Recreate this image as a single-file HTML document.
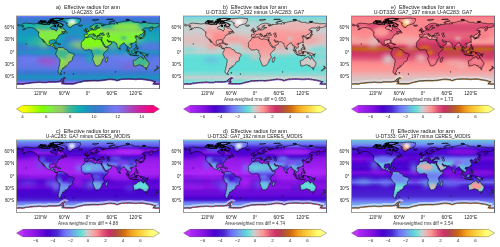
<!DOCTYPE html><html><head><meta charset="utf-8"><style>html,body{margin:0;padding:0;background:#fff;overflow:hidden}svg{display:block;will-change:transform}</style></head><body>
<svg width="500" height="247" viewBox="0 0 500 247" font-family="Liberation Sans, sans-serif">
<defs><clipPath id="mapclip"><rect x="0.5" y="0.5" width="143.0" height="73.0"/></clipPath><clipPath id="landclip"><path d="M34.07,7.72 35.06,6.99 36.05,7.03 35.85,7.6Z M31.88,6.38 33.27,5.97 33.07,6.58 32.08,6.66Z M33.87,6.58 35.06,6.54 34.86,6.26 33.87,6.34Z M23.94,5.97 25.92,5.61 26.32,6.1 24.73,6.26Z M40.22,7.39 41.81,7.27 41.22,7.07 40.02,7.15Z M32.68,9.1 33.87,9.18 34.07,8.73 33.07,8.77Z M38.83,11.61 39.83,11.53 39.23,11.29Z M90.67,4.43 92.66,4.15 95.83,4.07 97.42,4.35 94.64,4.56Z M110.13,5.16 111.72,4.84 113.71,5.08 111.72,5.37Z M126.82,6.99 128.01,6.79 129,7.19 127.61,7.27Z M10.03,28.52 10.43,28.81 10.23,29.29 10.03,29.09Z M99.33,56.75 100,56.87 99.81,57.2 99.37,57.12Z M56.91,58.9 57.7,58.9 57.78,59.22 57.1,59.1Z M47.65,57.8 48.96,57.76 49.08,58.01 48.17,58.21Z M5.27,10.4 6.06,9.22 7.65,8.53 9.83,8.08 11.62,8.29 14.01,8.53 15.99,8.73 17.98,9.02 19.17,8.81 21.16,8.53 22.74,8.81 25.13,9.02 26.72,9.3 29.1,9.5 31.48,9.54 33.07,9.42 34.26,8.81 35.06,7.88 36.25,9.02 37.84,8.81 39.43,9.91 37.84,10.23 37.44,10.96 35.85,11.45 34.66,12.26 34.46,13.15 35.26,13.88 37.04,14.29 38.63,14.61 39.31,15.59 40.42,16.11 40.62,15.1 41.41,14.49 41.22,13.48 41.02,12.34 41.22,11.65 43,11.86 44.19,12.26 44.39,13.07 45.39,13.27 46.38,12.59 47.37,13.68 47.97,14.49 49.36,15.3 49.84,15.91 49.16,16.24 48.17,16.64 46.58,16.64 45.58,16.84 46.18,17.05 46.38,17.41 46.18,17.94 47.77,18.34 48.17,18.43 46.78,18.91 45.78,19.24 45.86,18.63 45.39,18.75 44.19,19.28 43.96,19.72 44.19,20.05 43.6,20.21 42.61,20.53 42.49,21.02 42.01,21.39 41.81,21.99 42.01,22.68 41.41,23.09 40.62,23.54 39.83,24.23 40.14,25.44 40.22,26.25 40.06,26.78 39.71,26.66 39.23,25.85 39.15,25.32 38.63,24.83 37.84,24.67 36.65,24.71 36.45,25.12 35.85,25.16 34.66,25 33.67,25.56 33.27,26.46 33.15,27.88 33.39,28.69 33.87,29.29 34.46,29.62 35.46,29.46 35.85,29.29 36.09,28.56 37.04,28.28 37.44,28.32 37.24,29.29 36.97,29.9 36.85,30.55 38.04,30.55 38.87,30.84 38.79,32.34 38.95,32.94 39.63,33.43 40.42,33.11 41.1,33.43 41.25,33.55 41.06,34.04 40.82,33.67 40.22,34 40.02,33.72 39.23,33.67 38.63,33.15 37.96,32.62 37.64,32.13 37.2,31.69 36.45,31.52 35.65,31.32 35.06,30.71 34.46,30.43 33.67,30.63 32.87,30.39 31.68,29.9 30.49,29.29 30.01,28.69 30.13,28.16 29.78,27.55 28.9,26.66 28.5,26.13 27.91,25.64 27.39,25.04 27.03,24.35 26.44,24.14 26.52,24.63 27.11,25.32 27.39,25.93 27.95,26.66 28.19,27.27 28.5,27.59 28.31,27.71 27.79,27.14 27.43,26.94 27.39,26.25 26.64,25.73 26.52,25.32 26,24.71 25.72,24.18 25.41,23.58 24.93,23.21 24.1,22.97 23.62,22.2 23.34,21.71 22.86,21.18 22.63,20.66 22.7,19.97 22.55,19.36 22.78,18.26 22.51,17.41 23.14,17.33 23.22,17.09 22.43,16.6 21.35,15.99 20.96,15.42 20.24,14.9 19.77,14.37 18.97,13.76 18.18,13.36 17.58,13.19 16.39,12.75 15.2,12.67 13.81,12.34 13.01,12.59 12.42,12.91 11.82,12.95 11.62,12.42 11.03,12.87 10.83,13.15 10.19,13.56 9.64,13.92 8.96,14.29 7.85,14.53 7.05,14.74 6.66,14.86 7.65,14.37 8.84,13.68 9.44,13.19 8.25,13.19 7.65,12.83 6.86,12.54 6.34,12.18 6.06,11.65 6.66,11.33 8.05,11.04 7.93,10.8 6.86,10.8 5.98,10.8 5.27,10.4Z M43,5.29 45.78,4.23 48.17,3.74 52.14,3.5 56.11,3.14 60.08,3.14 63.26,3.54 64.85,3.95 64.06,4.56 64.65,5.57 64.06,6.58 63.46,7.6 63.06,8.41 62.07,8.9 60.08,9.34 58.89,9.42 57.3,10.31 56.11,10.64 55.52,11.45 54.92,12.59 54.12,12.46 52.93,12.18 52.14,11.65 51.54,10.84 51.03,10.23 50.63,9.62 51.15,9.14 50.55,8.61 51.54,8.21 50.15,7.8 49.76,7.19 48.96,6.46 47.37,6.1 45.78,6.18 44.19,5.85 43,5.29Z M47.37,9.95 46.58,10.44 46.1,11.53 44.99,11.53 43.4,11.13 42.41,10.84 41.02,10.88 41.61,10.44 42.8,9.91 43,9.34 41.41,8.69 40.22,8.61 38.63,8.53 36.65,8.29 37.04,7.6 38.63,7.11 40.22,7.19 41.81,7.52 43.4,7.8 44.19,8.21 45.39,8.61 45.19,9.1 46.98,9.62Z M40.22,5.97 42.21,5.57 43.8,5.12 46.18,4.35 47.37,3.74 44.19,3.42 40.22,3.34 36.25,3.95 35.46,4.56 33.87,5.37 37.04,5.77 39.03,6.06Z M40.22,6.79 35.46,6.75 33.87,6.34 36.25,5.85 39.03,6.1 40.62,6.26Z M25.13,8.49 27.11,9.1 29.89,9.1 31.68,8.81 31.48,7.72 29.89,7.27 27.51,7.48 24.93,7.88Z M22.15,7.88 22.74,6.87 25.13,6.26 25.92,7.19 24.33,8.12Z M25.92,6.66 29.1,6.66 30.29,6.1 28.31,5.93 25.92,5.97Z M35.46,5.16 37.84,4.47 35.06,4.07 33.87,4.56 33.87,5.04Z M33.07,7.88 33.87,7.07 32.48,6.99 31.68,7.39Z M37.84,11.04 39.83,11.29 40.02,10.84 38.63,10.23Z M48.4,17.7 51.03,18.02 50.95,17.21 49.87,16.07 49.16,16.52Z M38.28,28.12 39.43,27.59 41.22,27.96 42.53,28.77 41.22,28.93 40.22,28.2 39.03,28.08Z M42.45,28.97 44.19,29.01 44.83,29.46 43.6,29.86 42.45,29.58Z M41.25,33.55 41.81,33.15 42.01,32.7 42.53,32.46 43.32,32.17 43.56,32.54 43.44,32.86 43.64,33.11 44.15,32.34 44.91,32.74 45.78,32.7 46.58,32.7 47.25,32.7 47.77,33.11 48.17,33.55 48.76,34.04 49.28,34.57 50.15,34.61 50.75,34.73 51.5,35.3 51.9,36.19 52.14,36.84 52.54,37.2 52.81,37.41 53.53,37.41 54.28,37.93 55.12,38.05 56.11,38.14 57.1,38.87 57.98,39.23 58.18,40.04 58.02,40.73 57.3,41.54 56.67,42.27 56.51,43.29 56.43,44.22 56.11,45.03 55.71,45.84 55.32,46.33 54.32,46.45 53.53,46.73 52.73,47.54 52.66,48.48 51.94,49.37 51.27,50.1 50.75,50.71 50.19,51.15 49.56,51.11 48.8,50.87 49.24,51.52 49.44,51.92 49.04,52.53 47.97,52.78 47.29,52.74 47.25,53.47 46.26,53.55 46.58,54.24 46.18,54.64 45.98,55.25 45.27,55.66 45.39,56.59 44.67,57.48 44.51,58.17 44.87,58.25 44.79,59.1 45.58,59.31 44.79,59.55 44,59.31 43.2,58.78 42.41,58.09 42.01,56.67 42.41,55.86 42.01,55.45 42.68,54.64 42.61,53.83 42.8,52.61 42.88,52.01 43.52,50.63 43.6,49.17 43.72,48.15 44,47.14 44.08,45.72 44.12,44.42 43.6,44.06 42.41,43.29 41.73,42.6 41.29,41.79 40.54,40.24 40.06,39.68 39.75,39.35 39.71,38.7 40.14,38.3 40.14,37.61 40.02,37.12 40.22,36.63 40.66,36.39 40.74,35.95 41.22,35.46 41.29,34.36 41.06,34.04 41.25,33.55Z M69.82,22.44 71.21,22.77 72.4,22.2 73.27,22.08 74.58,21.99 75.89,21.87 76.37,21.99 76.05,22.32 76.37,22.72 76.05,23.09 76.45,23.54 76.97,23.7 78.04,23.9 78.36,24.35 79.35,24.71 79.94,24.47 79.98,23.9 80.74,23.66 81.53,24.02 82.01,24.18 82.92,24.35 83.72,24.43 84.31,24.18 84.83,24.35 85.58,24.31 85.62,24.35 85.86,25.04 85.58,25.73 85.31,25.52 84.95,24.87 84.95,25.04 85.19,25.73 85.58,26.37 86.02,27.27 86.5,28 86.78,28.48 86.82,29.38 87.29,29.7 87.69,30.59 88.37,31.12 88.88,31.65 89.2,32.09 89.16,32.34 89.68,32.78 90.47,32.62 91.27,32.46 92.34,32.17 92.26,32.74 92.06,33.35 91.66,34.36 91.07,35.17 90.47,35.99 89.48,36.51 88.68,37.32 88.29,37.73 87.93,38.14 87.57,38.87 87.41,39.64 87.65,40.24 87.73,41.06 88.09,41.46 88.13,42.88 88.17,43.29 87.61,43.81 86.7,44.22 86.02,44.91 86.1,45.92 86.1,46.73 85.11,47.34 85.03,47.54 84.91,48.56 84.43,48.96 83.96,49.57 83.2,50.26 82.53,50.71 82.17,50.79 81.14,50.75 80.74,50.87 79.94,51.11 79.47,50.87 79.27,50.59 79.23,49.98 78.83,49.09 78.55,48.56 78.04,47.95 77.84,47.14 77.72,46.12 77.32,45.44 76.85,44.5 76.69,44.02 76.69,43.41 76.97,42.47 77.4,41.87 77.48,41.34 77.24,40.65 76.85,39.43 76.85,39.35 76.57,38.62 76.17,38.22 75.81,37.81 75.69,37.2 75.77,36.59 75.89,35.78 75.81,35.5 75.5,35.26 74.98,35.22 74.38,35.26 73.99,34.77 73.79,34.45 72.99,34.45 72.4,34.61 71.6,34.97 71.21,35.09 70.41,34.89 69.82,34.93 69.02,35.22 68.62,35.13 68.03,34.65 67.43,34.2 67.03,33.96 66.76,33.55 66.64,33.15 66.12,32.62 65.84,32.3 65.37,31.97 65.33,31.52 65.05,31.04 65.45,30.51 65.56,29.5 65.45,29.05 65.25,28.48 65.45,27.88 65.64,27.35 66.12,26.86 66.28,26.37 66.76,25.81 67.43,25.56 68.03,25.16 68.11,24.71 68.11,24.23 68.42,23.78 69.22,23.29 69.54,22.64 69.82,22.44Z M91.58,41.87 92.06,43.29 91.78,43.89 91.58,44.5 91.19,45.72 90.75,47.06 89.95,47.34 89.48,47.06 89.2,46.12 89.28,45.52 89.64,44.91 89.48,44.1 89.64,43.57 90.39,43.33 90.99,42.76 91.38,42.07Z M69.82,22.44 69.62,22.28 69.46,22.08 69.06,21.91 68.46,21.99 68.5,21.51 68.23,21.26 68.5,20.7 68.46,20.05 68.31,19.56 68.82,19.28 69.82,19.36 70.61,19.36 71.28,19.4 71.48,18.95 71.52,18.34 71.13,17.9 70.25,17.57 70.13,17.29 70.81,17.21 71.36,17.25 71.48,16.84 72.08,16.93 72.6,16.64 72.64,16.36 72.99,16.28 73.43,16.11 73.79,15.79 73.91,15.51 74.38,15.3 74.78,15.26 75.42,15.14 75.42,14.49 75.22,14.05 75.38,13.84 76.21,13.6 76.13,14.09 76.29,14.21 75.97,14.69 76.37,15.1 76.97,14.98 77.56,15.1 78.36,14.98 79.15,14.78 79.75,14.94 80.34,14.61 80.34,13.96 80.66,13.68 81.33,13.88 81.65,13.56 81.33,13.23 81.65,12.91 83.12,12.87 83.92,12.71 83.44,12.46 82.72,12.46 81.14,12.71 80.94,12.54 80.5,12.34 80.54,11.53 81.14,11.13 82.05,10.64 81.93,10.35 80.94,10.27 80.34,10.72 79.55,11.25 79.07,11.65 78.83,12.26 79.47,12.67 79.35,12.95 78.67,13.27 78.55,13.88 78.28,14.25 77.64,14.53 77.12,14.45 77.01,14.21 76.73,13.72 76.41,13.07 76.17,12.75 75.97,13.07 75.18,13.44 74.38,13.4 74.11,12.95 73.99,12.46 73.99,11.94 74.18,11.65 75.18,11.33 75.97,10.92 76.77,10.31 77.36,9.62 78.16,9.22 78.75,8.94 79.55,8.69 80.34,8.53 81.53,8.33 82.33,8.21 83.32,8.21 84.31,8.49 83.92,8.73 85.11,8.9 86.3,9.02 88.09,9.5 88.37,9.91 87.09,10.23 85.82,10.19 85.11,10.03 85.7,10.84 86.7,11.13 87.09,10.84 86.7,10.56 87.89,10.8 88.29,10.44 89.48,10.15 89.56,9.5 89.28,9.26 90.27,9.3 90.47,9.5 91.46,9.54 93.05,9.26 93.85,9.34 95.04,9.06 96.03,8.69 97.62,8.9 99.01,9.22 98.53,8.81 98.61,8.33 99.21,7.6 99.81,7.39 100.8,7.48 100.8,8.21 100.6,9.02 101.2,9.22 101.59,8.21 101.2,7.88 101.79,7.6 101.99,7.27 103.38,7.6 103.98,7.15 105.37,7.03 106.36,6.79 106.56,6.5 109.74,6.18 111.33,6.1 112.12,5.85 113.31,5.53 114.3,5.69 114.9,5.97 116.09,5.89 117.08,6.3 116.89,6.91 118.08,7.11 119.27,7.35 120.86,7.39 122.05,7.19 123.04,7.39 123.24,7.88 124.04,8.25 124.83,8 126.02,7.96 127.21,7.72 127.81,7.48 129.6,7.68 131.19,7.8 131.78,8 132.38,8.25 133.97,8.21 135.16,8.25 135.75,8.61 136.75,8.73 138.34,8.77 139.53,8.61 140.72,8.65 141.91,8.69 143.5,9.02 143.5,10.48 142.9,10.8 142.23,10.8 142.31,11.65 141.32,11.94 140.32,12.26 139.73,12.67 138.34,12.54 137.14,12.71 136.55,13.27 136.87,13.88 136.35,14.21 136.27,14.74 135.56,15.42 134.96,15.55 134.24,16.28 133.97,15.59 133.85,14.69 133.93,13.96 134.36,13.56 135.16,13.27 136.15,12.5 136.95,11.94 135.75,11.98 135.36,12.14 134.24,12.06 133.29,12.71 133.57,12.99 132.58,13.07 130.79,12.91 129.6,12.91 128.49,13.07 127.69,13.56 126.82,14.09 125.82,14.78 126.42,15.1 126.62,15.42 127.81,15.42 128.09,15.79 127.81,16.72 127.61,17.33 127.02,17.94 126.5,18.43 125.82,19.2 125.03,19.64 124.43,19.48 123.96,19.76 123.56,20.37 123.52,20.45 122.84,20.86 122.65,21.06 122.96,21.35 123.4,21.99 123.44,22.56 123.24,22.77 122.65,22.97 122.21,23.05 122.13,22.72 122.37,22.04 122.13,21.71 121.65,21.71 121.77,21.35 121.57,20.94 121.06,20.86 120.3,21.22 120.18,20.98 120.58,20.58 120.26,20.41 119.87,20.7 119.27,21.1 118.75,21.26 118.87,21.59 119.23,21.83 119.55,21.91 119.98,21.67 120.66,21.83 120.62,22.04 119.91,22.36 119.35,22.85 119.79,23.09 119.91,23.45 120.42,24.14 120.42,24.51 120.26,24.79 120.46,24.91 120.3,25.36 120.06,25.73 119.75,26.21 119.51,26.62 119.11,27.02 118.47,27.47 118,27.75 117.36,27.96 117.08,27.92 116.69,28.16 116.09,28.32 115.77,28.77 115.77,28.36 115.38,28.32 114.9,28.24 114.38,28.61 114.07,28.97 113.99,29.29 114.34,29.9 114.7,30.31 115.22,30.84 115.42,31.52 115.38,32.3 115.06,32.54 114.58,32.78 114.26,33.15 113.75,33.51 113.63,33.19 113.75,32.94 113.43,32.74 112.95,32.46 112.76,32.05 112.08,31.89 112.08,31.57 111.76,31.57 111.72,32.01 111.4,32.78 111.4,33.27 111.68,33.27 111.84,33.63 111.92,34 112.12,34.2 112.56,34.49 112.91,34.77 113.07,35.01 113.07,35.46 113.11,35.86 113.39,36.35 113.11,36.51 112.76,36.23 112.28,35.86 112.16,35.54 111.88,35.3 111.84,34.85 111.76,34.36 111.52,34.2 111.13,33.59 111.09,33.11 111.21,32.38 111.13,31.69 111.01,31.36 110.81,30.55 110.61,30.15 110.33,30.35 109.89,30.63 109.66,30.59 109.42,30.51 109.54,29.98 109.46,29.62 109.14,29.13 108.94,28.93 108.7,28.61 108.58,28.4 108.31,27.75 107.95,27.75 107.87,28.16 107.63,28.12 107.31,28.2 107.07,28.2 106.36,28.81 105.8,29.09 105.41,29.58 104.65,30.11 104.45,30.39 103.9,30.55 103.78,30.88 103.86,31.4 103.9,31.73 103.74,32.09 103.74,32.78 103.5,32.82 103.34,33.15 103.46,33.27 103.1,33.39 102.94,33.63 102.78,33.76 102.43,33.39 102.23,32.82 102.07,32.42 101.95,32.21 101.75,31.85 101.63,31.32 101.55,31.08 101.2,30.51 101.04,29.74 100.92,29.21 100.92,28.73 100.84,28.32 100.28,28.56 100,28.52 99.49,28.04 99.65,27.88 99.53,27.75 99.09,27.39 98.77,27.31 98.65,26.98 98.38,26.7 97.62,26.78 96.63,26.82 96.43,26.82 95.67,26.7 95.24,26.62 94.8,26.58 94.56,26.01 94.44,26.01 94.13,26.09 93.73,26.25 93.25,26.13 92.85,25.81 92.46,25.69 91.9,24.79 91.7,24.83 91.42,24.71 91.07,24.83 90.95,25.24 91.23,25.4 91.38,25.77 91.58,25.85 91.66,26.09 91.9,26.17 91.94,26.33 92.1,26.78 92.26,26.46 92.5,26.54 92.5,27.19 92.89,27.19 93.45,27.23 94.01,26.7 94.28,26.46 94.4,26.29 94.4,26.78 94.4,26.9 94.8,27.31 95.32,27.43 95.63,27.79 95.75,27.88 95.56,28.32 95.4,28.44 95.24,28.73 95.04,28.69 94.92,29.01 94.96,29.33 94.48,29.46 94.36,29.74 94.01,29.86 93.85,30.11 93.53,30.11 93.29,30.23 92.81,30.35 92.73,30.55 92.06,30.8 91.7,31.04 91.34,31.32 91.07,31.32 90.67,31.48 90.23,31.61 89.91,31.77 89.68,31.85 89.28,31.89 89.16,31.65 89.04,31 88.92,30.84 89,30.55 88.92,30.19 88.76,29.9 88.6,29.78 88.37,29.42 88.25,29.09 87.97,28.81 87.81,28.77 87.53,28.36 87.49,27.83 87.29,27.39 86.9,27.14 86.78,26.82 86.66,26.62 86.54,26.29 86.34,26.21 85.94,25.6 85.74,25.6 85.86,25.04 85.62,24.35 85.74,24.23 85.9,23.7 85.94,23.25 86.1,22.97 86.26,22.64 86.34,22.48 86.3,22.24 86.14,22.16 85.78,22.08 85.51,22.32 84.91,22.36 84.59,22.16 84.16,22.12 84.08,22.28 83.8,22.36 83.4,22.12 82.96,22.12 82.76,21.71 82.45,21.51 82.65,21.18 82.41,20.98 82.41,20.78 82.84,20.62 83.44,20.58 83.6,20.33 84.35,20.33 84.83,20.09 85.31,19.97 85.78,19.97 86.18,20.13 86.7,20.29 87.21,20.41 87.69,20.33 88.05,20.37 88.48,20.17 88.56,20.01 88.48,19.72 88.01,19.52 87.73,19.16 87.29,18.95 86.86,18.67 87.21,18.3 87.57,17.86 86.9,17.9 86.1,18.1 85.82,18.3 86.1,18.59 86.5,18.63 85.7,18.95 85.31,18.95 84.91,18.59 85.35,18.38 84.91,18.3 84.59,18.1 84.16,18.1 83.76,18.67 83.4,19.03 83.36,19.48 83.12,19.97 83.16,20.13 83.56,20.29 83.12,20.37 82.72,20.45 82.41,20.62 82.37,20.53 82.33,20.45 81.89,20.41 81.41,20.49 81.69,20.74 81.3,21.1 81.1,21.02 81.26,21.47 81.53,21.51 81.53,21.71 81.18,21.63 81.3,21.83 81.06,21.87 81.22,22.24 80.94,22.24 80.62,22.08 80.46,21.75 80.38,21.47 80.02,21.06 79.71,20.66 79.67,20.01 78.95,19.64 78.36,19.36 78.04,19.07 77.92,18.71 77.44,18.71 77.44,18.55 77.01,18.51 76.89,18.59 76.93,18.79 76.89,18.91 77.01,19.12 77.36,19.32 77.56,19.64 78,19.97 78.36,20.09 78.95,20.41 79.31,20.62 79.35,20.7 79.03,20.66 78.75,21.02 78.83,21.1 78.47,21.47 78.24,21.63 78.24,21.51 78.32,21.26 78.4,20.98 78.12,20.78 77.84,20.53 77.4,20.29 77.01,20.09 76.81,20.09 76.45,19.8 76.17,19.56 76.05,19.2 75.85,18.99 75.54,18.99 75.34,19.07 74.94,19.28 74.58,19.52 73.83,19.4 73.23,19.52 73.19,20.01 72.83,20.29 72.32,20.37 72.28,20.49 72.04,20.74 71.88,21.06 72.04,21.3 71.8,21.47 71.72,21.75 71.44,21.83 71.17,22.12 70.25,22.12 70.01,22.28 69.82,22.44Z M0.5,9.02 1.69,9.14 2.88,9.75 3.88,9.87 4.55,10.23 4.08,10.48 3.48,10.88 2.29,10.84 1.29,10.48 0.5,10.48Z M69.74,16.68 70.41,16.56 71.6,16.4 72.56,16.24 72.64,15.67 72.12,15.38 71.88,15.02 71.52,14.82 71.36,14.45 70.97,14.17 71.28,13.64 70.69,13.23 70.01,13.23 69.7,13.56 69.78,14.13 69.54,14.41 70.01,14.69 70.09,14.78 70.61,14.82 70.73,15.06 70.81,15.34 70.17,15.38 70.33,15.67 70.05,15.91 69.93,16.03 70.69,16.15 70.25,16.24 69.74,16.68Z M69.54,15.83 69.62,15.38 69.58,15.1 69.78,14.86 69.54,14.61 69.1,14.57 68.66,14.78 68.58,14.98 68.03,15.02 68.11,15.34 68.23,15.67 67.91,15.91 68.11,16.11 68.62,16.07 69.26,15.87Z M63.06,11.04 63.26,10.84 62.47,10.44 63.06,10.11 64.45,10.15 65.64,10.03 66.24,10.15 66.6,10.6 66.08,10.88 64.57,11.29 63.66,11.13Z M76.37,5.16 76.77,4.64 78.55,4.56 80.34,4.39 82.72,4.52 80.74,5.2 79.15,5.93 77.96,5.65Z M92.66,8 93.25,7.27 93.85,6.91 95.04,6.3 97.03,6.02 99.21,5.77 98.61,6.22 95.83,6.66 94.44,7.31 94.84,8.33 93.25,8.29Z M109.74,4.76 111.33,4.15 113.31,4.64 112.12,5.04Z M126.02,6.58 127.61,6.26 129.99,6.5 128.41,7.03 126.42,6.91Z M128.41,18.34 129,18.14 128.8,17.33 129.4,17.13 128.88,16.11 128.92,15.38 128.64,14.98 128.41,15.3 128.49,16.32 128.33,17.33Z M127.61,20.17 127.61,19.76 128.21,18.59 128.6,18.87 129.8,19.44 129,19.97 128.01,19.8Z M124,23.21 124.23,22.93 124.83,22.6 126.02,22.52 126.3,22.08 126.54,21.87 127.02,21.67 127.41,21.39 127.61,20.82 127.61,20.45 128.17,20.21 128.41,20.98 128.01,21.59 128.01,22.08 127.93,22.52 127.53,22.81 127.13,22.97 126.42,22.97 126.34,23.09 125.94,23.41 125.66,22.97 125.03,23.05 124.55,23.21Z M123.52,23.41 123.56,23.78 123.72,24.31 124.08,24.31 124.39,23.82 124.43,23.5 124.08,23.25 123.8,23.25Z M124.63,23.58 124.79,23.21 125.47,23.13 125.51,23.29 124.95,23.54 124.79,23.74Z M119.71,27.67 120.06,26.82 120.42,26.86 120.26,27.47 119.98,28.12Z M115.14,29.21 115.85,28.85 116.09,29.05 115.81,29.54 115.42,29.62Z M103.7,33.67 103.74,33.03 104.17,33.55 104.49,34 104.41,34.4 104.02,34.61 103.78,34.4Z M119.67,29.5 120.14,29.46 120.54,29.5 120.58,30.11 120.3,30.55 120.46,31.16 121.18,31.4 121.33,31.89 120.86,31.61 120.34,31.32 119.91,31.16 119.91,30.59 119.63,30.39Z M120.46,34.16 120.78,33.76 121.18,33.67 121.85,33.35 122.21,33.43 122.29,34.04 122.13,34.45 121.81,34.73 121.3,34.4 121.22,33.92 120.86,33.96Z M120.46,32.74 120.94,32.42 121.45,31.93 121.89,32.42 121.65,32.9 121.06,33.15 120.66,33.07Z M118.55,33.59 119.47,32.42 119.55,32.74 118.79,33.72Z M115.3,36.39 115.58,36.19 116.09,36.35 116.17,35.95 116.89,35.74 117.36,35.17 117.84,34.97 118.16,34.53 118.47,34.16 118.75,34.4 119.11,34.77 119.35,34.85 118.99,35.22 118.75,35.3 118.83,36.27 119.27,36.63 118.79,36.68 118.67,37.16 118.32,37.61 118.28,38.01 118.12,38.62 117.64,38.66 117.48,38.42 117.01,38.26 116.41,38.42 116.09,38.26 115.77,38.18 115.69,37.65 115.34,37.2 115.3,36.84Z M109.86,34.77 110.73,34.89 111.09,35.26 111.6,35.7 111.96,36.15 112.28,36.19 112.72,36.43 113.23,36.96 113.07,37.28 113.47,37.45 113.67,37.93 113.95,38.22 114.15,38.26 114.03,38.74 114.03,39.39 113.59,39.39 113.27,39.03 112.76,38.7 112.6,38.46 112.28,38.14 112.08,37.85 111.76,37.28 111.44,36.92 111.17,36.27 110.81,35.99 110.61,35.66 110.29,35.42 109.89,34.97Z M113.79,39.76 114.15,39.39 114.62,39.43 115.1,39.6 115.89,39.8 116.25,39.72 116.73,39.8 117.48,40.16 117.44,40.53 117.08,40.37 116.29,40.37 115.93,40.28 115.02,40.16 114.3,40 113.87,39.84Z M117.68,40.37 118.36,40.49 119.27,40.45 119.98,40.37 120.82,40.28 120.78,40.53 119.47,40.61 118.28,40.61 117.76,40.53Z M121.26,41.02 121.69,40.53 122.57,40.41 121.69,40.81 121.26,41.18Z M119.47,39.23 119.43,38.42 119.19,38.14 119.35,37.85 119.59,37 119.71,36.76 120.02,36.47 120.82,36.63 121.3,36.63 121.69,36.35 121.41,36.84 121.14,36.92 120.06,36.84 119.75,37 119.71,37.2 120.02,37.57 120.26,37.41 120.98,37.24 120.78,37.61 120.26,37.77 120.62,38.3 120.66,38.95 120.3,38.7 120.18,38.87 120.02,38.46 119.83,39.23Z M122.8,36.11 123.12,36.55 122.84,36.8 123.2,37.28 122.73,37.12 122.61,36.59Z M124.04,37.53 124.59,37.16 125.27,37.37 125.39,38.14 125.82,38.38 126.14,37.93 126.58,37.69 126.94,37.69 127.29,37.85 127.97,38.05 128.68,38.34 129.44,38.58 129.91,39.03 129.91,39.23 130.63,39.47 130.47,40 130.83,40.24 131.07,40.69 131.31,40.69 131.58,41.1 131.9,41.18 131.58,41.3 131.15,41.18 130.75,41.1 130.43,40.85 129.99,40.28 129.48,40.08 129.16,40.2 128.92,40.33 128.96,40.65 128.64,40.77 128.01,40.69 127.25,40.28 126.86,40.41 126.82,40.08 127.09,39.96 126.98,39.51 126.78,39.19 125.7,38.83 125.11,38.42 124.99,38.62 124.75,38.66 124.75,38.34 124.43,38.14 124.87,38.01 125.15,38.01 125.11,37.89 124.51,37.89 124.35,37.65 124,37.57Z M130.91,39.27 131.58,39.23 132.18,38.7 132.5,38.74 132.1,39.35 131.58,39.55 130.91,39.43Z M117.08,45.92 117.2,46.73 117.04,46.9 117.36,47.67 117.36,48.07 117.68,48.96 117.96,49.82 117.96,50.5 117.68,50.63 117.68,50.91 118.32,51.19 118.87,51.19 119.63,50.79 120.26,50.71 121.14,50.75 121.33,50.38 122.09,50.06 123.24,49.82 124.16,49.78 124.83,50.02 125.35,50.22 125.7,50.99 126.02,51.15 126.62,50.42 126.78,50.63 126.74,51.23 127.02,51.32 127.41,51.52 127.57,52.17 127.85,52.41 128.29,52.53 129.04,52.74 129.4,52.45 129.72,52.53 130.11,52.82 130.55,52.49 130.91,52.33 131.58,52.17 131.62,51.76 131.86,51.28 132.1,50.71 132.42,50.26 132.78,49.57 133.01,48.56 132.81,47.59 132.62,47.22 132.22,46.77 131.86,46.08 131.46,46.04 131.11,45.27 130.15,44.71 129.99,44.02 129.76,43.61 129.72,43.08 129.44,42.76 129.04,42.68 129.04,42.11 128.6,41.34 128.41,41.83 128.29,42.56 128.25,43.29 127.97,44.06 127.33,44.06 126.78,43.69 126.26,43.37 125.82,43 126.02,42.39 126.34,41.95 125.98,41.83 125.51,41.87 125.07,41.79 124.67,41.7 124.35,41.58 124,41.95 123.68,42.31 123.4,42.84 122.92,43.04 122.77,42.8 122.41,42.6 121.97,42.88 121.41,43.61 121.02,44.02 120.54,44.38 120.18,44.87 119.59,45.11 119.15,45.27 118.55,45.39 118.24,45.35 117.64,45.8Z M129.48,53.51 130.15,53.67 130.91,53.59 130.91,54.07 130.75,54.52 130.35,54.68 129.76,54.32 129.64,53.87Z M140.56,50.95 140.92,51.19 141.24,51.32 141.43,51.92 141.87,52.25 142.47,52.37 142.9,52.29 142.71,52.9 142.27,53.02 141.91,53.75 141.59,53.87 141.39,53.75 141.59,53.42 141.36,53.18 141.04,53.02 141.32,52.74 141.39,52.17 141.24,51.8Z M140.6,53.42 141.08,53.59 141.24,53.91 140.88,54.36 140.6,54.6 140,55.01 139.77,55.62 139.25,55.9 138.53,55.78 138.18,55.62 138.3,55.29 138.85,54.88 139.73,54.44 140.16,53.95 140.36,53.59Z"/></clipPath><g id="coast"><path d="M34.07,7.72 35.06,6.99 36.05,7.03 35.85,7.6Z M31.88,6.38 33.27,5.97 33.07,6.58 32.08,6.66Z M33.87,6.58 35.06,6.54 34.86,6.26 33.87,6.34Z M23.94,5.97 25.92,5.61 26.32,6.1 24.73,6.26Z M40.22,7.39 41.81,7.27 41.22,7.07 40.02,7.15Z M32.68,9.1 33.87,9.18 34.07,8.73 33.07,8.77Z M38.83,11.61 39.83,11.53 39.23,11.29Z M90.67,4.43 92.66,4.15 95.83,4.07 97.42,4.35 94.64,4.56Z M110.13,5.16 111.72,4.84 113.71,5.08 111.72,5.37Z M126.82,6.99 128.01,6.79 129,7.19 127.61,7.27Z M10.03,28.52 10.43,28.81 10.23,29.29 10.03,29.09Z M99.33,56.75 100,56.87 99.81,57.2 99.37,57.12Z M56.91,58.9 57.7,58.9 57.78,59.22 57.1,59.1Z M47.65,57.8 48.96,57.76 49.08,58.01 48.17,58.21Z M5.27,10.4 6.06,9.22 7.65,8.53 9.83,8.08 11.62,8.29 14.01,8.53 15.99,8.73 17.98,9.02 19.17,8.81 21.16,8.53 22.74,8.81 25.13,9.02 26.72,9.3 29.1,9.5 31.48,9.54 33.07,9.42 34.26,8.81 35.06,7.88 36.25,9.02 37.84,8.81 39.43,9.91 37.84,10.23 37.44,10.96 35.85,11.45 34.66,12.26 34.46,13.15 35.26,13.88 37.04,14.29 38.63,14.61 39.31,15.59 40.42,16.11 40.62,15.1 41.41,14.49 41.22,13.48 41.02,12.34 41.22,11.65 43,11.86 44.19,12.26 44.39,13.07 45.39,13.27 46.38,12.59 47.37,13.68 47.97,14.49 49.36,15.3 49.84,15.91 49.16,16.24 48.17,16.64 46.58,16.64 45.58,16.84 46.18,17.05 46.38,17.41 46.18,17.94 47.77,18.34 48.17,18.43 46.78,18.91 45.78,19.24 45.86,18.63 45.39,18.75 44.19,19.28 43.96,19.72 44.19,20.05 43.6,20.21 42.61,20.53 42.49,21.02 42.01,21.39 41.81,21.99 42.01,22.68 41.41,23.09 40.62,23.54 39.83,24.23 40.14,25.44 40.22,26.25 40.06,26.78 39.71,26.66 39.23,25.85 39.15,25.32 38.63,24.83 37.84,24.67 36.65,24.71 36.45,25.12 35.85,25.16 34.66,25 33.67,25.56 33.27,26.46 33.15,27.88 33.39,28.69 33.87,29.29 34.46,29.62 35.46,29.46 35.85,29.29 36.09,28.56 37.04,28.28 37.44,28.32 37.24,29.29 36.97,29.9 36.85,30.55 38.04,30.55 38.87,30.84 38.79,32.34 38.95,32.94 39.63,33.43 40.42,33.11 41.1,33.43 41.25,33.55 41.06,34.04 40.82,33.67 40.22,34 40.02,33.72 39.23,33.67 38.63,33.15 37.96,32.62 37.64,32.13 37.2,31.69 36.45,31.52 35.65,31.32 35.06,30.71 34.46,30.43 33.67,30.63 32.87,30.39 31.68,29.9 30.49,29.29 30.01,28.69 30.13,28.16 29.78,27.55 28.9,26.66 28.5,26.13 27.91,25.64 27.39,25.04 27.03,24.35 26.44,24.14 26.52,24.63 27.11,25.32 27.39,25.93 27.95,26.66 28.19,27.27 28.5,27.59 28.31,27.71 27.79,27.14 27.43,26.94 27.39,26.25 26.64,25.73 26.52,25.32 26,24.71 25.72,24.18 25.41,23.58 24.93,23.21 24.1,22.97 23.62,22.2 23.34,21.71 22.86,21.18 22.63,20.66 22.7,19.97 22.55,19.36 22.78,18.26 22.51,17.41 23.14,17.33 23.22,17.09 22.43,16.6 21.35,15.99 20.96,15.42 20.24,14.9 19.77,14.37 18.97,13.76 18.18,13.36 17.58,13.19 16.39,12.75 15.2,12.67 13.81,12.34 13.01,12.59 12.42,12.91 11.82,12.95 11.62,12.42 11.03,12.87 10.83,13.15 10.19,13.56 9.64,13.92 8.96,14.29 7.85,14.53 7.05,14.74 6.66,14.86 7.65,14.37 8.84,13.68 9.44,13.19 8.25,13.19 7.65,12.83 6.86,12.54 6.34,12.18 6.06,11.65 6.66,11.33 8.05,11.04 7.93,10.8 6.86,10.8 5.98,10.8 5.27,10.4Z M43,5.29 45.78,4.23 48.17,3.74 52.14,3.5 56.11,3.14 60.08,3.14 63.26,3.54 64.85,3.95 64.06,4.56 64.65,5.57 64.06,6.58 63.46,7.6 63.06,8.41 62.07,8.9 60.08,9.34 58.89,9.42 57.3,10.31 56.11,10.64 55.52,11.45 54.92,12.59 54.12,12.46 52.93,12.18 52.14,11.65 51.54,10.84 51.03,10.23 50.63,9.62 51.15,9.14 50.55,8.61 51.54,8.21 50.15,7.8 49.76,7.19 48.96,6.46 47.37,6.1 45.78,6.18 44.19,5.85 43,5.29Z M47.37,9.95 46.58,10.44 46.1,11.53 44.99,11.53 43.4,11.13 42.41,10.84 41.02,10.88 41.61,10.44 42.8,9.91 43,9.34 41.41,8.69 40.22,8.61 38.63,8.53 36.65,8.29 37.04,7.6 38.63,7.11 40.22,7.19 41.81,7.52 43.4,7.8 44.19,8.21 45.39,8.61 45.19,9.1 46.98,9.62Z M40.22,5.97 42.21,5.57 43.8,5.12 46.18,4.35 47.37,3.74 44.19,3.42 40.22,3.34 36.25,3.95 35.46,4.56 33.87,5.37 37.04,5.77 39.03,6.06Z M40.22,6.79 35.46,6.75 33.87,6.34 36.25,5.85 39.03,6.1 40.62,6.26Z M25.13,8.49 27.11,9.1 29.89,9.1 31.68,8.81 31.48,7.72 29.89,7.27 27.51,7.48 24.93,7.88Z M22.15,7.88 22.74,6.87 25.13,6.26 25.92,7.19 24.33,8.12Z M25.92,6.66 29.1,6.66 30.29,6.1 28.31,5.93 25.92,5.97Z M35.46,5.16 37.84,4.47 35.06,4.07 33.87,4.56 33.87,5.04Z M33.07,7.88 33.87,7.07 32.48,6.99 31.68,7.39Z M37.84,11.04 39.83,11.29 40.02,10.84 38.63,10.23Z M48.4,17.7 51.03,18.02 50.95,17.21 49.87,16.07 49.16,16.52Z M38.28,28.12 39.43,27.59 41.22,27.96 42.53,28.77 41.22,28.93 40.22,28.2 39.03,28.08Z M42.45,28.97 44.19,29.01 44.83,29.46 43.6,29.86 42.45,29.58Z M41.25,33.55 41.81,33.15 42.01,32.7 42.53,32.46 43.32,32.17 43.56,32.54 43.44,32.86 43.64,33.11 44.15,32.34 44.91,32.74 45.78,32.7 46.58,32.7 47.25,32.7 47.77,33.11 48.17,33.55 48.76,34.04 49.28,34.57 50.15,34.61 50.75,34.73 51.5,35.3 51.9,36.19 52.14,36.84 52.54,37.2 52.81,37.41 53.53,37.41 54.28,37.93 55.12,38.05 56.11,38.14 57.1,38.87 57.98,39.23 58.18,40.04 58.02,40.73 57.3,41.54 56.67,42.27 56.51,43.29 56.43,44.22 56.11,45.03 55.71,45.84 55.32,46.33 54.32,46.45 53.53,46.73 52.73,47.54 52.66,48.48 51.94,49.37 51.27,50.1 50.75,50.71 50.19,51.15 49.56,51.11 48.8,50.87 49.24,51.52 49.44,51.92 49.04,52.53 47.97,52.78 47.29,52.74 47.25,53.47 46.26,53.55 46.58,54.24 46.18,54.64 45.98,55.25 45.27,55.66 45.39,56.59 44.67,57.48 44.51,58.17 44.87,58.25 44.79,59.1 45.58,59.31 44.79,59.55 44,59.31 43.2,58.78 42.41,58.09 42.01,56.67 42.41,55.86 42.01,55.45 42.68,54.64 42.61,53.83 42.8,52.61 42.88,52.01 43.52,50.63 43.6,49.17 43.72,48.15 44,47.14 44.08,45.72 44.12,44.42 43.6,44.06 42.41,43.29 41.73,42.6 41.29,41.79 40.54,40.24 40.06,39.68 39.75,39.35 39.71,38.7 40.14,38.3 40.14,37.61 40.02,37.12 40.22,36.63 40.66,36.39 40.74,35.95 41.22,35.46 41.29,34.36 41.06,34.04 41.25,33.55Z M69.82,22.44 71.21,22.77 72.4,22.2 73.27,22.08 74.58,21.99 75.89,21.87 76.37,21.99 76.05,22.32 76.37,22.72 76.05,23.09 76.45,23.54 76.97,23.7 78.04,23.9 78.36,24.35 79.35,24.71 79.94,24.47 79.98,23.9 80.74,23.66 81.53,24.02 82.01,24.18 82.92,24.35 83.72,24.43 84.31,24.18 84.83,24.35 85.58,24.31 85.62,24.35 85.86,25.04 85.58,25.73 85.31,25.52 84.95,24.87 84.95,25.04 85.19,25.73 85.58,26.37 86.02,27.27 86.5,28 86.78,28.48 86.82,29.38 87.29,29.7 87.69,30.59 88.37,31.12 88.88,31.65 89.2,32.09 89.16,32.34 89.68,32.78 90.47,32.62 91.27,32.46 92.34,32.17 92.26,32.74 92.06,33.35 91.66,34.36 91.07,35.17 90.47,35.99 89.48,36.51 88.68,37.32 88.29,37.73 87.93,38.14 87.57,38.87 87.41,39.64 87.65,40.24 87.73,41.06 88.09,41.46 88.13,42.88 88.17,43.29 87.61,43.81 86.7,44.22 86.02,44.91 86.1,45.92 86.1,46.73 85.11,47.34 85.03,47.54 84.91,48.56 84.43,48.96 83.96,49.57 83.2,50.26 82.53,50.71 82.17,50.79 81.14,50.75 80.74,50.87 79.94,51.11 79.47,50.87 79.27,50.59 79.23,49.98 78.83,49.09 78.55,48.56 78.04,47.95 77.84,47.14 77.72,46.12 77.32,45.44 76.85,44.5 76.69,44.02 76.69,43.41 76.97,42.47 77.4,41.87 77.48,41.34 77.24,40.65 76.85,39.43 76.85,39.35 76.57,38.62 76.17,38.22 75.81,37.81 75.69,37.2 75.77,36.59 75.89,35.78 75.81,35.5 75.5,35.26 74.98,35.22 74.38,35.26 73.99,34.77 73.79,34.45 72.99,34.45 72.4,34.61 71.6,34.97 71.21,35.09 70.41,34.89 69.82,34.93 69.02,35.22 68.62,35.13 68.03,34.65 67.43,34.2 67.03,33.96 66.76,33.55 66.64,33.15 66.12,32.62 65.84,32.3 65.37,31.97 65.33,31.52 65.05,31.04 65.45,30.51 65.56,29.5 65.45,29.05 65.25,28.48 65.45,27.88 65.64,27.35 66.12,26.86 66.28,26.37 66.76,25.81 67.43,25.56 68.03,25.16 68.11,24.71 68.11,24.23 68.42,23.78 69.22,23.29 69.54,22.64 69.82,22.44Z M91.58,41.87 92.06,43.29 91.78,43.89 91.58,44.5 91.19,45.72 90.75,47.06 89.95,47.34 89.48,47.06 89.2,46.12 89.28,45.52 89.64,44.91 89.48,44.1 89.64,43.57 90.39,43.33 90.99,42.76 91.38,42.07Z M69.82,22.44 69.62,22.28 69.46,22.08 69.06,21.91 68.46,21.99 68.5,21.51 68.23,21.26 68.5,20.7 68.46,20.05 68.31,19.56 68.82,19.28 69.82,19.36 70.61,19.36 71.28,19.4 71.48,18.95 71.52,18.34 71.13,17.9 70.25,17.57 70.13,17.29 70.81,17.21 71.36,17.25 71.48,16.84 72.08,16.93 72.6,16.64 72.64,16.36 72.99,16.28 73.43,16.11 73.79,15.79 73.91,15.51 74.38,15.3 74.78,15.26 75.42,15.14 75.42,14.49 75.22,14.05 75.38,13.84 76.21,13.6 76.13,14.09 76.29,14.21 75.97,14.69 76.37,15.1 76.97,14.98 77.56,15.1 78.36,14.98 79.15,14.78 79.75,14.94 80.34,14.61 80.34,13.96 80.66,13.68 81.33,13.88 81.65,13.56 81.33,13.23 81.65,12.91 83.12,12.87 83.92,12.71 83.44,12.46 82.72,12.46 81.14,12.71 80.94,12.54 80.5,12.34 80.54,11.53 81.14,11.13 82.05,10.64 81.93,10.35 80.94,10.27 80.34,10.72 79.55,11.25 79.07,11.65 78.83,12.26 79.47,12.67 79.35,12.95 78.67,13.27 78.55,13.88 78.28,14.25 77.64,14.53 77.12,14.45 77.01,14.21 76.73,13.72 76.41,13.07 76.17,12.75 75.97,13.07 75.18,13.44 74.38,13.4 74.11,12.95 73.99,12.46 73.99,11.94 74.18,11.65 75.18,11.33 75.97,10.92 76.77,10.31 77.36,9.62 78.16,9.22 78.75,8.94 79.55,8.69 80.34,8.53 81.53,8.33 82.33,8.21 83.32,8.21 84.31,8.49 83.92,8.73 85.11,8.9 86.3,9.02 88.09,9.5 88.37,9.91 87.09,10.23 85.82,10.19 85.11,10.03 85.7,10.84 86.7,11.13 87.09,10.84 86.7,10.56 87.89,10.8 88.29,10.44 89.48,10.15 89.56,9.5 89.28,9.26 90.27,9.3 90.47,9.5 91.46,9.54 93.05,9.26 93.85,9.34 95.04,9.06 96.03,8.69 97.62,8.9 99.01,9.22 98.53,8.81 98.61,8.33 99.21,7.6 99.81,7.39 100.8,7.48 100.8,8.21 100.6,9.02 101.2,9.22 101.59,8.21 101.2,7.88 101.79,7.6 101.99,7.27 103.38,7.6 103.98,7.15 105.37,7.03 106.36,6.79 106.56,6.5 109.74,6.18 111.33,6.1 112.12,5.85 113.31,5.53 114.3,5.69 114.9,5.97 116.09,5.89 117.08,6.3 116.89,6.91 118.08,7.11 119.27,7.35 120.86,7.39 122.05,7.19 123.04,7.39 123.24,7.88 124.04,8.25 124.83,8 126.02,7.96 127.21,7.72 127.81,7.48 129.6,7.68 131.19,7.8 131.78,8 132.38,8.25 133.97,8.21 135.16,8.25 135.75,8.61 136.75,8.73 138.34,8.77 139.53,8.61 140.72,8.65 141.91,8.69 143.5,9.02 143.5,10.48 142.9,10.8 142.23,10.8 142.31,11.65 141.32,11.94 140.32,12.26 139.73,12.67 138.34,12.54 137.14,12.71 136.55,13.27 136.87,13.88 136.35,14.21 136.27,14.74 135.56,15.42 134.96,15.55 134.24,16.28 133.97,15.59 133.85,14.69 133.93,13.96 134.36,13.56 135.16,13.27 136.15,12.5 136.95,11.94 135.75,11.98 135.36,12.14 134.24,12.06 133.29,12.71 133.57,12.99 132.58,13.07 130.79,12.91 129.6,12.91 128.49,13.07 127.69,13.56 126.82,14.09 125.82,14.78 126.42,15.1 126.62,15.42 127.81,15.42 128.09,15.79 127.81,16.72 127.61,17.33 127.02,17.94 126.5,18.43 125.82,19.2 125.03,19.64 124.43,19.48 123.96,19.76 123.56,20.37 123.52,20.45 122.84,20.86 122.65,21.06 122.96,21.35 123.4,21.99 123.44,22.56 123.24,22.77 122.65,22.97 122.21,23.05 122.13,22.72 122.37,22.04 122.13,21.71 121.65,21.71 121.77,21.35 121.57,20.94 121.06,20.86 120.3,21.22 120.18,20.98 120.58,20.58 120.26,20.41 119.87,20.7 119.27,21.1 118.75,21.26 118.87,21.59 119.23,21.83 119.55,21.91 119.98,21.67 120.66,21.83 120.62,22.04 119.91,22.36 119.35,22.85 119.79,23.09 119.91,23.45 120.42,24.14 120.42,24.51 120.26,24.79 120.46,24.91 120.3,25.36 120.06,25.73 119.75,26.21 119.51,26.62 119.11,27.02 118.47,27.47 118,27.75 117.36,27.96 117.08,27.92 116.69,28.16 116.09,28.32 115.77,28.77 115.77,28.36 115.38,28.32 114.9,28.24 114.38,28.61 114.07,28.97 113.99,29.29 114.34,29.9 114.7,30.31 115.22,30.84 115.42,31.52 115.38,32.3 115.06,32.54 114.58,32.78 114.26,33.15 113.75,33.51 113.63,33.19 113.75,32.94 113.43,32.74 112.95,32.46 112.76,32.05 112.08,31.89 112.08,31.57 111.76,31.57 111.72,32.01 111.4,32.78 111.4,33.27 111.68,33.27 111.84,33.63 111.92,34 112.12,34.2 112.56,34.49 112.91,34.77 113.07,35.01 113.07,35.46 113.11,35.86 113.39,36.35 113.11,36.51 112.76,36.23 112.28,35.86 112.16,35.54 111.88,35.3 111.84,34.85 111.76,34.36 111.52,34.2 111.13,33.59 111.09,33.11 111.21,32.38 111.13,31.69 111.01,31.36 110.81,30.55 110.61,30.15 110.33,30.35 109.89,30.63 109.66,30.59 109.42,30.51 109.54,29.98 109.46,29.62 109.14,29.13 108.94,28.93 108.7,28.61 108.58,28.4 108.31,27.75 107.95,27.75 107.87,28.16 107.63,28.12 107.31,28.2 107.07,28.2 106.36,28.81 105.8,29.09 105.41,29.58 104.65,30.11 104.45,30.39 103.9,30.55 103.78,30.88 103.86,31.4 103.9,31.73 103.74,32.09 103.74,32.78 103.5,32.82 103.34,33.15 103.46,33.27 103.1,33.39 102.94,33.63 102.78,33.76 102.43,33.39 102.23,32.82 102.07,32.42 101.95,32.21 101.75,31.85 101.63,31.32 101.55,31.08 101.2,30.51 101.04,29.74 100.92,29.21 100.92,28.73 100.84,28.32 100.28,28.56 100,28.52 99.49,28.04 99.65,27.88 99.53,27.75 99.09,27.39 98.77,27.31 98.65,26.98 98.38,26.7 97.62,26.78 96.63,26.82 96.43,26.82 95.67,26.7 95.24,26.62 94.8,26.58 94.56,26.01 94.44,26.01 94.13,26.09 93.73,26.25 93.25,26.13 92.85,25.81 92.46,25.69 91.9,24.79 91.7,24.83 91.42,24.71 91.07,24.83 90.95,25.24 91.23,25.4 91.38,25.77 91.58,25.85 91.66,26.09 91.9,26.17 91.94,26.33 92.1,26.78 92.26,26.46 92.5,26.54 92.5,27.19 92.89,27.19 93.45,27.23 94.01,26.7 94.28,26.46 94.4,26.29 94.4,26.78 94.4,26.9 94.8,27.31 95.32,27.43 95.63,27.79 95.75,27.88 95.56,28.32 95.4,28.44 95.24,28.73 95.04,28.69 94.92,29.01 94.96,29.33 94.48,29.46 94.36,29.74 94.01,29.86 93.85,30.11 93.53,30.11 93.29,30.23 92.81,30.35 92.73,30.55 92.06,30.8 91.7,31.04 91.34,31.32 91.07,31.32 90.67,31.48 90.23,31.61 89.91,31.77 89.68,31.85 89.28,31.89 89.16,31.65 89.04,31 88.92,30.84 89,30.55 88.92,30.19 88.76,29.9 88.6,29.78 88.37,29.42 88.25,29.09 87.97,28.81 87.81,28.77 87.53,28.36 87.49,27.83 87.29,27.39 86.9,27.14 86.78,26.82 86.66,26.62 86.54,26.29 86.34,26.21 85.94,25.6 85.74,25.6 85.86,25.04 85.62,24.35 85.74,24.23 85.9,23.7 85.94,23.25 86.1,22.97 86.26,22.64 86.34,22.48 86.3,22.24 86.14,22.16 85.78,22.08 85.51,22.32 84.91,22.36 84.59,22.16 84.16,22.12 84.08,22.28 83.8,22.36 83.4,22.12 82.96,22.12 82.76,21.71 82.45,21.51 82.65,21.18 82.41,20.98 82.41,20.78 82.84,20.62 83.44,20.58 83.6,20.33 84.35,20.33 84.83,20.09 85.31,19.97 85.78,19.97 86.18,20.13 86.7,20.29 87.21,20.41 87.69,20.33 88.05,20.37 88.48,20.17 88.56,20.01 88.48,19.72 88.01,19.52 87.73,19.16 87.29,18.95 86.86,18.67 87.21,18.3 87.57,17.86 86.9,17.9 86.1,18.1 85.82,18.3 86.1,18.59 86.5,18.63 85.7,18.95 85.31,18.95 84.91,18.59 85.35,18.38 84.91,18.3 84.59,18.1 84.16,18.1 83.76,18.67 83.4,19.03 83.36,19.48 83.12,19.97 83.16,20.13 83.56,20.29 83.12,20.37 82.72,20.45 82.41,20.62 82.37,20.53 82.33,20.45 81.89,20.41 81.41,20.49 81.69,20.74 81.3,21.1 81.1,21.02 81.26,21.47 81.53,21.51 81.53,21.71 81.18,21.63 81.3,21.83 81.06,21.87 81.22,22.24 80.94,22.24 80.62,22.08 80.46,21.75 80.38,21.47 80.02,21.06 79.71,20.66 79.67,20.01 78.95,19.64 78.36,19.36 78.04,19.07 77.92,18.71 77.44,18.71 77.44,18.55 77.01,18.51 76.89,18.59 76.93,18.79 76.89,18.91 77.01,19.12 77.36,19.32 77.56,19.64 78,19.97 78.36,20.09 78.95,20.41 79.31,20.62 79.35,20.7 79.03,20.66 78.75,21.02 78.83,21.1 78.47,21.47 78.24,21.63 78.24,21.51 78.32,21.26 78.4,20.98 78.12,20.78 77.84,20.53 77.4,20.29 77.01,20.09 76.81,20.09 76.45,19.8 76.17,19.56 76.05,19.2 75.85,18.99 75.54,18.99 75.34,19.07 74.94,19.28 74.58,19.52 73.83,19.4 73.23,19.52 73.19,20.01 72.83,20.29 72.32,20.37 72.28,20.49 72.04,20.74 71.88,21.06 72.04,21.3 71.8,21.47 71.72,21.75 71.44,21.83 71.17,22.12 70.25,22.12 70.01,22.28 69.82,22.44Z M0.5,9.02 1.69,9.14 2.88,9.75 3.88,9.87 4.55,10.23 4.08,10.48 3.48,10.88 2.29,10.84 1.29,10.48 0.5,10.48Z M69.74,16.68 70.41,16.56 71.6,16.4 72.56,16.24 72.64,15.67 72.12,15.38 71.88,15.02 71.52,14.82 71.36,14.45 70.97,14.17 71.28,13.64 70.69,13.23 70.01,13.23 69.7,13.56 69.78,14.13 69.54,14.41 70.01,14.69 70.09,14.78 70.61,14.82 70.73,15.06 70.81,15.34 70.17,15.38 70.33,15.67 70.05,15.91 69.93,16.03 70.69,16.15 70.25,16.24 69.74,16.68Z M69.54,15.83 69.62,15.38 69.58,15.1 69.78,14.86 69.54,14.61 69.1,14.57 68.66,14.78 68.58,14.98 68.03,15.02 68.11,15.34 68.23,15.67 67.91,15.91 68.11,16.11 68.62,16.07 69.26,15.87Z M63.06,11.04 63.26,10.84 62.47,10.44 63.06,10.11 64.45,10.15 65.64,10.03 66.24,10.15 66.6,10.6 66.08,10.88 64.57,11.29 63.66,11.13Z M76.37,5.16 76.77,4.64 78.55,4.56 80.34,4.39 82.72,4.52 80.74,5.2 79.15,5.93 77.96,5.65Z M92.66,8 93.25,7.27 93.85,6.91 95.04,6.3 97.03,6.02 99.21,5.77 98.61,6.22 95.83,6.66 94.44,7.31 94.84,8.33 93.25,8.29Z M109.74,4.76 111.33,4.15 113.31,4.64 112.12,5.04Z M126.02,6.58 127.61,6.26 129.99,6.5 128.41,7.03 126.42,6.91Z M128.41,18.34 129,18.14 128.8,17.33 129.4,17.13 128.88,16.11 128.92,15.38 128.64,14.98 128.41,15.3 128.49,16.32 128.33,17.33Z M127.61,20.17 127.61,19.76 128.21,18.59 128.6,18.87 129.8,19.44 129,19.97 128.01,19.8Z M124,23.21 124.23,22.93 124.83,22.6 126.02,22.52 126.3,22.08 126.54,21.87 127.02,21.67 127.41,21.39 127.61,20.82 127.61,20.45 128.17,20.21 128.41,20.98 128.01,21.59 128.01,22.08 127.93,22.52 127.53,22.81 127.13,22.97 126.42,22.97 126.34,23.09 125.94,23.41 125.66,22.97 125.03,23.05 124.55,23.21Z M123.52,23.41 123.56,23.78 123.72,24.31 124.08,24.31 124.39,23.82 124.43,23.5 124.08,23.25 123.8,23.25Z M124.63,23.58 124.79,23.21 125.47,23.13 125.51,23.29 124.95,23.54 124.79,23.74Z M119.71,27.67 120.06,26.82 120.42,26.86 120.26,27.47 119.98,28.12Z M115.14,29.21 115.85,28.85 116.09,29.05 115.81,29.54 115.42,29.62Z M103.7,33.67 103.74,33.03 104.17,33.55 104.49,34 104.41,34.4 104.02,34.61 103.78,34.4Z M119.67,29.5 120.14,29.46 120.54,29.5 120.58,30.11 120.3,30.55 120.46,31.16 121.18,31.4 121.33,31.89 120.86,31.61 120.34,31.32 119.91,31.16 119.91,30.59 119.63,30.39Z M120.46,34.16 120.78,33.76 121.18,33.67 121.85,33.35 122.21,33.43 122.29,34.04 122.13,34.45 121.81,34.73 121.3,34.4 121.22,33.92 120.86,33.96Z M120.46,32.74 120.94,32.42 121.45,31.93 121.89,32.42 121.65,32.9 121.06,33.15 120.66,33.07Z M118.55,33.59 119.47,32.42 119.55,32.74 118.79,33.72Z M115.3,36.39 115.58,36.19 116.09,36.35 116.17,35.95 116.89,35.74 117.36,35.17 117.84,34.97 118.16,34.53 118.47,34.16 118.75,34.4 119.11,34.77 119.35,34.85 118.99,35.22 118.75,35.3 118.83,36.27 119.27,36.63 118.79,36.68 118.67,37.16 118.32,37.61 118.28,38.01 118.12,38.62 117.64,38.66 117.48,38.42 117.01,38.26 116.41,38.42 116.09,38.26 115.77,38.18 115.69,37.65 115.34,37.2 115.3,36.84Z M109.86,34.77 110.73,34.89 111.09,35.26 111.6,35.7 111.96,36.15 112.28,36.19 112.72,36.43 113.23,36.96 113.07,37.28 113.47,37.45 113.67,37.93 113.95,38.22 114.15,38.26 114.03,38.74 114.03,39.39 113.59,39.39 113.27,39.03 112.76,38.7 112.6,38.46 112.28,38.14 112.08,37.85 111.76,37.28 111.44,36.92 111.17,36.27 110.81,35.99 110.61,35.66 110.29,35.42 109.89,34.97Z M113.79,39.76 114.15,39.39 114.62,39.43 115.1,39.6 115.89,39.8 116.25,39.72 116.73,39.8 117.48,40.16 117.44,40.53 117.08,40.37 116.29,40.37 115.93,40.28 115.02,40.16 114.3,40 113.87,39.84Z M117.68,40.37 118.36,40.49 119.27,40.45 119.98,40.37 120.82,40.28 120.78,40.53 119.47,40.61 118.28,40.61 117.76,40.53Z M121.26,41.02 121.69,40.53 122.57,40.41 121.69,40.81 121.26,41.18Z M119.47,39.23 119.43,38.42 119.19,38.14 119.35,37.85 119.59,37 119.71,36.76 120.02,36.47 120.82,36.63 121.3,36.63 121.69,36.35 121.41,36.84 121.14,36.92 120.06,36.84 119.75,37 119.71,37.2 120.02,37.57 120.26,37.41 120.98,37.24 120.78,37.61 120.26,37.77 120.62,38.3 120.66,38.95 120.3,38.7 120.18,38.87 120.02,38.46 119.83,39.23Z M122.8,36.11 123.12,36.55 122.84,36.8 123.2,37.28 122.73,37.12 122.61,36.59Z M124.04,37.53 124.59,37.16 125.27,37.37 125.39,38.14 125.82,38.38 126.14,37.93 126.58,37.69 126.94,37.69 127.29,37.85 127.97,38.05 128.68,38.34 129.44,38.58 129.91,39.03 129.91,39.23 130.63,39.47 130.47,40 130.83,40.24 131.07,40.69 131.31,40.69 131.58,41.1 131.9,41.18 131.58,41.3 131.15,41.18 130.75,41.1 130.43,40.85 129.99,40.28 129.48,40.08 129.16,40.2 128.92,40.33 128.96,40.65 128.64,40.77 128.01,40.69 127.25,40.28 126.86,40.41 126.82,40.08 127.09,39.96 126.98,39.51 126.78,39.19 125.7,38.83 125.11,38.42 124.99,38.62 124.75,38.66 124.75,38.34 124.43,38.14 124.87,38.01 125.15,38.01 125.11,37.89 124.51,37.89 124.35,37.65 124,37.57Z M130.91,39.27 131.58,39.23 132.18,38.7 132.5,38.74 132.1,39.35 131.58,39.55 130.91,39.43Z M117.08,45.92 117.2,46.73 117.04,46.9 117.36,47.67 117.36,48.07 117.68,48.96 117.96,49.82 117.96,50.5 117.68,50.63 117.68,50.91 118.32,51.19 118.87,51.19 119.63,50.79 120.26,50.71 121.14,50.75 121.33,50.38 122.09,50.06 123.24,49.82 124.16,49.78 124.83,50.02 125.35,50.22 125.7,50.99 126.02,51.15 126.62,50.42 126.78,50.63 126.74,51.23 127.02,51.32 127.41,51.52 127.57,52.17 127.85,52.41 128.29,52.53 129.04,52.74 129.4,52.45 129.72,52.53 130.11,52.82 130.55,52.49 130.91,52.33 131.58,52.17 131.62,51.76 131.86,51.28 132.1,50.71 132.42,50.26 132.78,49.57 133.01,48.56 132.81,47.59 132.62,47.22 132.22,46.77 131.86,46.08 131.46,46.04 131.11,45.27 130.15,44.71 129.99,44.02 129.76,43.61 129.72,43.08 129.44,42.76 129.04,42.68 129.04,42.11 128.6,41.34 128.41,41.83 128.29,42.56 128.25,43.29 127.97,44.06 127.33,44.06 126.78,43.69 126.26,43.37 125.82,43 126.02,42.39 126.34,41.95 125.98,41.83 125.51,41.87 125.07,41.79 124.67,41.7 124.35,41.58 124,41.95 123.68,42.31 123.4,42.84 122.92,43.04 122.77,42.8 122.41,42.6 121.97,42.88 121.41,43.61 121.02,44.02 120.54,44.38 120.18,44.87 119.59,45.11 119.15,45.27 118.55,45.39 118.24,45.35 117.64,45.8Z M129.48,53.51 130.15,53.67 130.91,53.59 130.91,54.07 130.75,54.52 130.35,54.68 129.76,54.32 129.64,53.87Z M140.56,50.95 140.92,51.19 141.24,51.32 141.43,51.92 141.87,52.25 142.47,52.37 142.9,52.29 142.71,52.9 142.27,53.02 141.91,53.75 141.59,53.87 141.39,53.75 141.59,53.42 141.36,53.18 141.04,53.02 141.32,52.74 141.39,52.17 141.24,51.8Z M140.6,53.42 141.08,53.59 141.24,53.91 140.88,54.36 140.6,54.6 140,55.01 139.77,55.62 139.25,55.9 138.53,55.78 138.18,55.62 138.3,55.29 138.85,54.88 139.73,54.44 140.16,53.95 140.36,53.59Z M90.67,18.83 90.87,18.47 91.46,18.18 92.34,17.94 93.05,18.02 93.13,18.26 93.05,18.67 92.38,18.99 92.06,18.91 92.34,19.48 92.85,19.68 93.05,20.01 92.97,20.45 93.45,20.58 93.29,21.02 93.41,21.87 92.77,22.12 92.26,22.08 91.86,21.83 91.46,21.59 91.42,21.26 91.58,20.7 91.7,20.49 91.31,20.05 90.99,19.64 90.87,19.32Z M0.5,68.84 2.49,68.76 4.47,68.63 7.25,68.84 9.24,68.23 9.64,68.03 11.62,68.03 13.21,67.82 14.4,67.62 16.39,67.42 18.38,67.21 20.36,67.21 22.35,66.93 24.33,67.01 26.32,67.21 28.31,67.21 30.29,67.21 31.48,67.01 32.28,66.61 33.47,66.61 34.26,66.81 36.25,66.69 38.24,66.69 40.22,66.69 41.81,66.52 43,66.4 44.19,65.79 44.99,64.98 45.39,64.38 46.18,63.77 47.37,63.16 48.96,62.67 49.36,62.79 48.56,63.16 47.77,63.77 47.37,64.58 47.37,65.39 47.77,66.2 47.77,67.01 46.98,67.42 46.18,68.23 48.17,68.43 50.15,68.63 52.14,68.55 54.12,68.63 56.11,68.63 58.1,68.43 60.08,67.82 61.27,67.42 62.07,67.21 64.06,66.81 66.04,66.4 67.23,66 68.03,65.79 70.01,65.71 72,65.59 73.99,65.51 75.97,65.39 77.96,65.39 79.94,65.39 81.93,65.51 83.92,65.31 85.9,65.11 87.89,64.9 89.88,64.58 91.86,64.25 93.85,63.97 95.83,64.17 97.82,64.38 99.81,64.78 100.6,65.39 101.79,65.19 102.98,64.78 104.57,64.25 105.76,64.01 107.75,63.97 109.74,63.89 111.72,63.77 113.71,63.77 115.69,63.85 117.68,64.01 119.67,64.09 121.65,63.97 123.64,63.89 125.62,63.85 127.61,64.05 129.6,64.38 131.58,64.78 133.57,64.98 135.56,65.39 136.75,65.79 138.34,66.4 139.53,66.4 139.13,67.01 137.94,67.82 137.14,68.43 138.34,68.76 140.32,68.84 141.91,68.84 143.5,68.84" fill="none" stroke="#000" stroke-width="0.55" stroke-linejoin="round"/><path d="M47.37,9.95 46.58,10.44 46.1,11.53 44.99,11.53 43.4,11.13 42.41,10.84 41.02,10.88 41.61,10.44 42.8,9.91 43,9.34 41.41,8.69 40.22,8.61 38.63,8.53 36.65,8.29 37.04,7.6 38.63,7.11 40.22,7.19 41.81,7.52 43.4,7.8 44.19,8.21 45.39,8.61 45.19,9.1 46.98,9.62Z M40.22,5.97 42.21,5.57 43.8,5.12 46.18,4.35 47.37,3.74 44.19,3.42 40.22,3.34 36.25,3.95 35.46,4.56 33.87,5.37 37.04,5.77 39.03,6.06Z M40.22,6.79 35.46,6.75 33.87,6.34 36.25,5.85 39.03,6.1 40.62,6.26Z M25.13,8.49 27.11,9.1 29.89,9.1 31.68,8.81 31.48,7.72 29.89,7.27 27.51,7.48 24.93,7.88Z M22.15,7.88 22.74,6.87 25.13,6.26 25.92,7.19 24.33,8.12Z M25.92,6.66 29.1,6.66 30.29,6.1 28.31,5.93 25.92,5.97Z M35.46,5.16 37.84,4.47 35.06,4.07 33.87,4.56 33.87,5.04Z M33.07,7.88 33.87,7.07 32.48,6.99 31.68,7.39Z M34.07,7.72 35.06,6.99 36.05,7.03 35.85,7.6Z M31.88,6.38 33.27,5.97 33.07,6.58 32.08,6.66Z M33.87,6.58 35.06,6.54 34.86,6.26 33.87,6.34Z M23.94,5.97 25.92,5.61 26.32,6.1 24.73,6.26Z M40.22,7.39 41.81,7.27 41.22,7.07 40.02,7.15Z M32.68,9.1 33.87,9.18 34.07,8.73 33.07,8.77Z M37.84,11.04 39.83,11.29 40.02,10.84 38.63,10.23Z M38.83,11.61 39.83,11.53 39.23,11.29Z" fill="none" stroke="#000" stroke-width="0.9" stroke-opacity="0.8" stroke-linejoin="round"/></g><path id="antarc" d="M0.5,77.56 0.5,68.84 2.49,68.76 4.47,68.63 7.25,68.84 9.24,68.23 9.64,68.03 11.62,68.03 13.21,67.82 14.4,67.62 16.39,67.42 18.38,67.21 20.36,67.21 22.35,66.93 24.33,67.01 26.32,67.21 28.31,67.21 30.29,67.21 31.48,67.01 32.28,66.61 33.47,66.61 34.26,66.81 36.25,66.69 38.24,66.69 40.22,66.69 41.81,66.52 43,66.61 44.19,66.81 45.78,67.21 46.98,67.62 46.18,68.23 48.17,68.43 50.15,68.63 52.14,68.55 54.12,68.63 56.11,68.63 58.1,68.43 60.08,67.82 61.27,67.42 62.07,67.21 64.06,66.81 66.04,66.4 67.23,66 68.03,65.79 70.01,65.71 72,65.59 73.99,65.51 75.97,65.39 77.96,65.39 79.94,65.39 81.93,65.51 83.92,65.31 85.9,65.11 87.89,64.9 89.88,64.58 91.86,64.25 93.85,63.97 95.83,64.17 97.82,64.38 99.81,64.78 100.6,65.39 101.79,65.19 102.98,64.78 104.57,64.25 105.76,64.01 107.75,63.97 109.74,63.89 111.72,63.77 113.71,63.77 115.69,63.85 117.68,64.01 119.67,64.09 121.65,63.97 123.64,63.89 125.62,63.85 127.61,64.05 129.6,64.38 131.58,64.78 133.57,64.98 135.56,65.39 136.75,65.79 138.34,66.4 139.53,66.4 139.13,67.01 137.94,67.82 137.14,68.43 138.34,68.76 140.32,68.84 141.91,68.84 143.5,68.84 143.5,77.56Z"/><path id="antpen" d="M43,66.4 44.19,65.79 44.99,64.98 45.39,64.38 46.18,63.77 47.37,63.16 48.96,62.67 49.36,62.79 48.56,63.16 47.77,63.77 47.37,64.58 47.37,65.39 47.77,66.2 47.77,67.01 46.98,67.62 45.78,67.21 44.19,66.81Z"/><path id="antedge" d="M0.5,68.84 2.49,68.76 4.47,68.63 7.25,68.84 9.24,68.23 9.64,68.03 11.62,68.03 13.21,67.82 14.4,67.62 16.39,67.42 18.38,67.21 20.36,67.21 22.35,66.93 24.33,67.01 26.32,67.21 28.31,67.21 30.29,67.21 31.48,67.01 32.28,66.61 33.47,66.61 34.26,66.81 36.25,66.69 38.24,66.69 40.22,66.69 41.81,66.52 43,66.4 44.19,65.79 44.99,64.98 45.39,64.38 46.18,63.77 47.37,63.16 48.96,62.67 49.36,62.79 48.56,63.16 47.77,63.77 47.37,64.58 47.37,65.39 47.77,66.2 47.77,67.01 46.98,67.42 46.18,68.23 48.17,68.43 50.15,68.63 52.14,68.55 54.12,68.63 56.11,68.63 58.1,68.43 60.08,67.82 61.27,67.42 62.07,67.21 64.06,66.81 66.04,66.4 67.23,66 68.03,65.79 70.01,65.71 72,65.59 73.99,65.51 75.97,65.39 77.96,65.39 79.94,65.39 81.93,65.51 83.92,65.31 85.9,65.11 87.89,64.9 89.88,64.58 91.86,64.25 93.85,63.97 95.83,64.17 97.82,64.38 99.81,64.78 100.6,65.39 101.79,65.19 102.98,64.78 104.57,64.25 105.76,64.01 107.75,63.97 109.74,63.89 111.72,63.77 113.71,63.77 115.69,63.85 117.68,64.01 119.67,64.09 121.65,63.97 123.64,63.89 125.62,63.85 127.61,64.05 129.6,64.38 131.58,64.78 133.57,64.98 135.56,65.39 136.75,65.79 138.34,66.4 139.53,66.4 139.13,67.01 137.94,67.82 137.14,68.43 138.34,68.76 140.32,68.84 141.91,68.84 143.5,68.84"/><linearGradient id="og0" gradientUnits="userSpaceOnUse" x1="0" y1="0.5" x2="0" y2="73.5"><stop offset="0.0000" stop-color="#7977f6"/><stop offset="0.0111" stop-color="#7977f6"/><stop offset="0.0194" stop-color="#5378e0"/><stop offset="0.0333" stop-color="#3e79d6"/><stop offset="0.0500" stop-color="#3c7ad4"/><stop offset="0.0667" stop-color="#397bd1"/><stop offset="0.0833" stop-color="#377ccf"/><stop offset="0.1019" stop-color="#317fc9"/><stop offset="0.1204" stop-color="#2a86c6"/><stop offset="0.1389" stop-color="#218fc3"/><stop offset="0.1556" stop-color="#2090c3"/><stop offset="0.1722" stop-color="#1f91c2"/><stop offset="0.1889" stop-color="#1d93c2"/><stop offset="0.2056" stop-color="#1c94c1"/><stop offset="0.2222" stop-color="#1a96c1"/><stop offset="0.2407" stop-color="#1898c0"/><stop offset="0.2593" stop-color="#179abe"/><stop offset="0.2778" stop-color="#169dbd"/><stop offset="0.2963" stop-color="#169fbb"/><stop offset="0.3148" stop-color="#15a2ba"/><stop offset="0.3333" stop-color="#14a4b8"/><stop offset="0.3519" stop-color="#169dbd"/><stop offset="0.3704" stop-color="#1a96c1"/><stop offset="0.3889" stop-color="#218fc3"/><stop offset="0.4074" stop-color="#2987c6"/><stop offset="0.4259" stop-color="#3080c8"/><stop offset="0.4444" stop-color="#357ecd"/><stop offset="0.4639" stop-color="#3080c8"/><stop offset="0.4833" stop-color="#2987c6"/><stop offset="0.5000" stop-color="#1899bf"/><stop offset="0.5222" stop-color="#2987c6"/><stop offset="0.5444" stop-color="#3e79d6"/><stop offset="0.5611" stop-color="#4a78dc"/><stop offset="0.5778" stop-color="#5978e2"/><stop offset="0.5981" stop-color="#5d78e4"/><stop offset="0.6185" stop-color="#6178e5"/><stop offset="0.6389" stop-color="#6578e7"/><stop offset="0.6569" stop-color="#6478e6"/><stop offset="0.6750" stop-color="#6278e6"/><stop offset="0.6931" stop-color="#6178e5"/><stop offset="0.7111" stop-color="#5f78e4"/><stop offset="0.7306" stop-color="#5678e1"/><stop offset="0.7500" stop-color="#4d78dd"/><stop offset="0.7694" stop-color="#3f78d7"/><stop offset="0.7889" stop-color="#397bd1"/><stop offset="0.8056" stop-color="#327fca"/><stop offset="0.8222" stop-color="#2987c6"/><stop offset="0.8500" stop-color="#1a96c1"/><stop offset="0.8667" stop-color="#2987c6"/><stop offset="0.8889" stop-color="#3e79d6"/><stop offset="0.9111" stop-color="#7678f6"/><stop offset="0.9333" stop-color="#945cd4"/><stop offset="0.9500" stop-color="#9858d0"/><stop offset="0.9667" stop-color="#9d53cb"/><stop offset="0.9833" stop-color="#a24ec6"/><stop offset="1.0000" stop-color="#a749c1"/></linearGradient><filter id="bl0" x="-20%" y="-20%" width="140%" height="140%"><feGaussianBlur stdDeviation="2.5"/></filter><linearGradient id="lg0" gradientUnits="userSpaceOnUse" x1="0" y1="0.5" x2="0" y2="73.5"><stop offset="0.0000" stop-color="#14a4b8"/><stop offset="0.0185" stop-color="#14a4b8"/><stop offset="0.0370" stop-color="#14a4b8"/><stop offset="0.0556" stop-color="#14a4b8"/><stop offset="0.0741" stop-color="#11acb2"/><stop offset="0.0926" stop-color="#19b2aa"/><stop offset="0.1111" stop-color="#2ab49f"/><stop offset="0.1333" stop-color="#35b697"/><stop offset="0.1556" stop-color="#3fb890"/><stop offset="0.1750" stop-color="#63bf7f"/><stop offset="0.1944" stop-color="#87c66d"/><stop offset="0.2222" stop-color="#87e24e"/><stop offset="0.2407" stop-color="#84e947"/><stop offset="0.2593" stop-color="#81ef41"/><stop offset="0.2778" stop-color="#80f236"/><stop offset="0.2944" stop-color="#80f332"/><stop offset="0.3111" stop-color="#80f42e"/><stop offset="0.3278" stop-color="#80f52a"/><stop offset="0.3444" stop-color="#80f626"/><stop offset="0.3611" stop-color="#80f722"/><stop offset="0.3778" stop-color="#80f236"/><stop offset="0.3944" stop-color="#82ec44"/><stop offset="0.4111" stop-color="#87e24e"/><stop offset="0.4278" stop-color="#8cd957"/><stop offset="0.4444" stop-color="#90d060"/><stop offset="0.4630" stop-color="#8fc869"/><stop offset="0.4815" stop-color="#67c07d"/><stop offset="0.5000" stop-color="#3fb890"/><stop offset="0.5185" stop-color="#4fbb88"/><stop offset="0.5370" stop-color="#5fbe81"/><stop offset="0.5556" stop-color="#6fc179"/><stop offset="0.5722" stop-color="#7dc471"/><stop offset="0.5889" stop-color="#8bc76a"/><stop offset="0.6056" stop-color="#90ca66"/><stop offset="0.6222" stop-color="#90cd63"/><stop offset="0.6389" stop-color="#90d060"/><stop offset="0.6556" stop-color="#90ce62"/><stop offset="0.6722" stop-color="#90cd63"/><stop offset="0.6889" stop-color="#90cb65"/><stop offset="0.7056" stop-color="#90ca66"/><stop offset="0.7222" stop-color="#90c967"/><stop offset="0.7396" stop-color="#86c66d"/><stop offset="0.7569" stop-color="#79c373"/><stop offset="0.7743" stop-color="#6dc17a"/><stop offset="0.7917" stop-color="#60be80"/><stop offset="0.8090" stop-color="#53bc86"/><stop offset="0.8264" stop-color="#47b98d"/><stop offset="0.8438" stop-color="#3cb792"/><stop offset="0.8611" stop-color="#35b697"/><stop offset="0.8785" stop-color="#2db59d"/><stop offset="0.8958" stop-color="#26b4a2"/><stop offset="0.9132" stop-color="#1eb2a7"/><stop offset="0.9306" stop-color="#16b1ac"/><stop offset="0.9479" stop-color="#10afb0"/><stop offset="0.9653" stop-color="#11acb3"/><stop offset="0.9826" stop-color="#13a8b5"/><stop offset="1.0000" stop-color="#14a4b8"/></linearGradient><filter id="lb0" x="-20%" y="-20%" width="140%" height="140%"><feGaussianBlur stdDeviation="1.5"/></filter><linearGradient id="cb0" gradientUnits="userSpaceOnUse" x1="22.5" y1="0" x2="153.5" y2="0"><stop offset="0.0000" stop-color="#ffff00"/><stop offset="0.0730" stop-color="#c8ff00"/><stop offset="0.1490" stop-color="#80ff00"/><stop offset="0.2100" stop-color="#80f040"/><stop offset="0.2710" stop-color="#90d060"/><stop offset="0.3020" stop-color="#90c868"/><stop offset="0.3630" stop-color="#40b890"/><stop offset="0.4240" stop-color="#10b0b0"/><stop offset="0.4850" stop-color="#1898c0"/><stop offset="0.5460" stop-color="#3080c8"/><stop offset="0.6070" stop-color="#4078d8"/><stop offset="0.6680" stop-color="#6878e8"/><stop offset="0.7140" stop-color="#7878f8"/><stop offset="0.7600" stop-color="#8868e0"/><stop offset="0.8050" stop-color="#a050c8"/><stop offset="0.8510" stop-color="#b838b0"/><stop offset="0.8970" stop-color="#d020a0"/><stop offset="0.9730" stop-color="#f00880"/><stop offset="1.0000" stop-color="#ff0080"/></linearGradient><linearGradient id="og1" gradientUnits="userSpaceOnUse" x1="0" y1="0.5" x2="0" y2="73.5"><stop offset="0.0000" stop-color="#7085f2"/><stop offset="0.0100" stop-color="#7097ed"/><stop offset="0.0178" stop-color="#73ddd7"/><stop offset="0.0367" stop-color="#82dbd5"/><stop offset="0.0556" stop-color="#91d8d4"/><stop offset="0.0778" stop-color="#a0d6d3"/><stop offset="0.1000" stop-color="#afd4d2"/><stop offset="0.1185" stop-color="#b4d3d2"/><stop offset="0.1370" stop-color="#b9d2d1"/><stop offset="0.1556" stop-color="#bed2d1"/><stop offset="0.1722" stop-color="#c2d1d0"/><stop offset="0.1889" stop-color="#c6d0d0"/><stop offset="0.2056" stop-color="#c9cfcf"/><stop offset="0.2222" stop-color="#cacece"/><stop offset="0.2407" stop-color="#cfcbcb"/><stop offset="0.2593" stop-color="#d4c7c7"/><stop offset="0.2778" stop-color="#d9c3c3"/><stop offset="0.2963" stop-color="#dbc2c2"/><stop offset="0.3148" stop-color="#ddc0c0"/><stop offset="0.3333" stop-color="#e0bebe"/><stop offset="0.3519" stop-color="#ddc0c0"/><stop offset="0.3704" stop-color="#dbc2c2"/><stop offset="0.3889" stop-color="#d9c3c3"/><stop offset="0.4111" stop-color="#d2c9c9"/><stop offset="0.4333" stop-color="#cacece"/><stop offset="0.4500" stop-color="#bed2d1"/><stop offset="0.4667" stop-color="#afd4d2"/><stop offset="0.4889" stop-color="#bed2d1"/><stop offset="0.5000" stop-color="#cacece"/><stop offset="0.5222" stop-color="#a0d6d3"/><stop offset="0.5444" stop-color="#73ddd7"/><stop offset="0.5639" stop-color="#68dfd7"/><stop offset="0.5833" stop-color="#60ded8"/><stop offset="0.6000" stop-color="#60ded8"/><stop offset="0.6167" stop-color="#60ded8"/><stop offset="0.6333" stop-color="#60ded8"/><stop offset="0.6500" stop-color="#60ded8"/><stop offset="0.6667" stop-color="#60ded8"/><stop offset="0.6833" stop-color="#60ded8"/><stop offset="0.7000" stop-color="#60ded8"/><stop offset="0.7167" stop-color="#60ded8"/><stop offset="0.7333" stop-color="#60ded8"/><stop offset="0.7500" stop-color="#60ded8"/><stop offset="0.7694" stop-color="#6fded7"/><stop offset="0.7889" stop-color="#82dbd5"/><stop offset="0.8167" stop-color="#91d8d4"/><stop offset="0.8444" stop-color="#cacece"/><stop offset="0.8667" stop-color="#afd4d2"/><stop offset="0.8833" stop-color="#8fd9d4"/><stop offset="0.9000" stop-color="#6fded7"/><stop offset="0.9167" stop-color="#62d9da"/><stop offset="0.9333" stop-color="#66ccde"/><stop offset="0.9500" stop-color="#6abfe2"/><stop offset="0.9667" stop-color="#6db1e5"/><stop offset="0.9833" stop-color="#70a4e9"/><stop offset="1.0000" stop-color="#7097ed"/></linearGradient><filter id="bl1" x="-20%" y="-20%" width="140%" height="140%"><feGaussianBlur stdDeviation="2.5"/></filter><linearGradient id="lg1" gradientUnits="userSpaceOnUse" x1="0" y1="0.5" x2="0" y2="73.5"><stop offset="0.0000" stop-color="#d2c9c9"/><stop offset="0.0167" stop-color="#d3c8c8"/><stop offset="0.0333" stop-color="#d4c7c7"/><stop offset="0.0500" stop-color="#d6c6c6"/><stop offset="0.0667" stop-color="#d7c5c5"/><stop offset="0.0833" stop-color="#d9c3c3"/><stop offset="0.1019" stop-color="#ddc0c0"/><stop offset="0.1204" stop-color="#e2bcbc"/><stop offset="0.1389" stop-color="#e7b9b9"/><stop offset="0.1574" stop-color="#ebb3b3"/><stop offset="0.1759" stop-color="#eeadad"/><stop offset="0.1944" stop-color="#f1a7a7"/><stop offset="0.2130" stop-color="#f4a4a4"/><stop offset="0.2315" stop-color="#f6a0a0"/><stop offset="0.2500" stop-color="#f89c9c"/><stop offset="0.2667" stop-color="#f99b9b"/><stop offset="0.2833" stop-color="#fa9a9a"/><stop offset="0.3000" stop-color="#fa9898"/><stop offset="0.3167" stop-color="#fb9797"/><stop offset="0.3333" stop-color="#fc9696"/><stop offset="0.3500" stop-color="#fc9696"/><stop offset="0.3667" stop-color="#fc9696"/><stop offset="0.3833" stop-color="#fc9696"/><stop offset="0.4000" stop-color="#fc9696"/><stop offset="0.4167" stop-color="#fc9696"/><stop offset="0.4333" stop-color="#fa9898"/><stop offset="0.4500" stop-color="#f99b9b"/><stop offset="0.4667" stop-color="#f79d9d"/><stop offset="0.4833" stop-color="#f69f9f"/><stop offset="0.5000" stop-color="#f5a2a2"/><stop offset="0.5167" stop-color="#f3a5a5"/><stop offset="0.5333" stop-color="#f1a9a9"/><stop offset="0.5500" stop-color="#efacac"/><stop offset="0.5667" stop-color="#edb0b0"/><stop offset="0.5833" stop-color="#ebb3b3"/><stop offset="0.6000" stop-color="#eab5b5"/><stop offset="0.6167" stop-color="#e8b8b8"/><stop offset="0.6333" stop-color="#e6baba"/><stop offset="0.6500" stop-color="#e3bcbc"/><stop offset="0.6667" stop-color="#e0bebe"/><stop offset="0.6833" stop-color="#ddc0c0"/><stop offset="0.7000" stop-color="#dac2c2"/><stop offset="0.7167" stop-color="#d7c5c5"/><stop offset="0.7333" stop-color="#d4c7c7"/><stop offset="0.7500" stop-color="#d2c9c9"/><stop offset="0.7667" stop-color="#d2c9c9"/><stop offset="0.7833" stop-color="#d2c9c9"/><stop offset="0.8000" stop-color="#d2c9c9"/><stop offset="0.8167" stop-color="#d2c9c9"/><stop offset="0.8333" stop-color="#d2c9c9"/><stop offset="0.8500" stop-color="#d2c9c9"/><stop offset="0.8667" stop-color="#d2c9c9"/><stop offset="0.8833" stop-color="#d2c9c9"/><stop offset="0.9000" stop-color="#d2c9c9"/><stop offset="0.9167" stop-color="#d2c9c9"/><stop offset="0.9333" stop-color="#d2c9c9"/><stop offset="0.9500" stop-color="#d2c9c9"/><stop offset="0.9667" stop-color="#d2c9c9"/><stop offset="0.9833" stop-color="#d2c9c9"/><stop offset="1.0000" stop-color="#d2c9c9"/></linearGradient><filter id="lb1" x="-20%" y="-20%" width="140%" height="140%"><feGaussianBlur stdDeviation="1.5"/></filter><linearGradient id="cb1" gradientUnits="userSpaceOnUse" x1="189.5" y1="0" x2="320.5" y2="0"><stop offset="0.0000" stop-color="#b028f8"/><stop offset="0.0400" stop-color="#a020f0"/><stop offset="0.1150" stop-color="#8010e0"/><stop offset="0.1920" stop-color="#4800d0"/><stop offset="0.2620" stop-color="#4828d0"/><stop offset="0.3230" stop-color="#7070f8"/><stop offset="0.3850" stop-color="#70a8e8"/><stop offset="0.4450" stop-color="#60e0d8"/><stop offset="0.4910" stop-color="#c8d0d0"/><stop offset="0.5210" stop-color="#e8b8b8"/><stop offset="0.5670" stop-color="#ff9090"/><stop offset="0.6130" stop-color="#e05878"/><stop offset="0.6590" stop-color="#d03068"/><stop offset="0.7050" stop-color="#b04848"/><stop offset="0.7510" stop-color="#c06020"/><stop offset="0.7820" stop-color="#d87010"/><stop offset="0.8280" stop-color="#f0a020"/><stop offset="0.8740" stop-color="#f8c030"/><stop offset="0.9330" stop-color="#ffe050"/><stop offset="0.9800" stop-color="#ffff70"/><stop offset="1.0000" stop-color="#ffff80"/></linearGradient><linearGradient id="og2" gradientUnits="userSpaceOnUse" x1="0" y1="0.5" x2="0" y2="73.5"><stop offset="0.0000" stop-color="#d7416f"/><stop offset="0.0100" stop-color="#d94671"/><stop offset="0.0178" stop-color="#f68089"/><stop offset="0.0396" stop-color="#f8838a"/><stop offset="0.0615" stop-color="#f9868c"/><stop offset="0.0833" stop-color="#fb888d"/><stop offset="0.1000" stop-color="#fa878c"/><stop offset="0.1167" stop-color="#fa878c"/><stop offset="0.1333" stop-color="#f9868c"/><stop offset="0.1500" stop-color="#f9858b"/><stop offset="0.1667" stop-color="#f8848b"/><stop offset="0.1833" stop-color="#f9868c"/><stop offset="0.2000" stop-color="#fa878c"/><stop offset="0.2167" stop-color="#fb898d"/><stop offset="0.2333" stop-color="#fc8b8e"/><stop offset="0.2500" stop-color="#fd8c8e"/><stop offset="0.2681" stop-color="#fe9292"/><stop offset="0.2861" stop-color="#fb9898"/><stop offset="0.3042" stop-color="#f89d9d"/><stop offset="0.3222" stop-color="#f5a2a2"/><stop offset="0.3444" stop-color="#f79f9f"/><stop offset="0.3667" stop-color="#f89c9c"/><stop offset="0.3944" stop-color="#f27886"/><stop offset="0.4167" stop-color="#d94671"/><stop offset="0.4333" stop-color="#bd3e55"/><stop offset="0.4500" stop-color="#bc5a2a"/><stop offset="0.4667" stop-color="#ba572f"/><stop offset="0.4833" stop-color="#c13b59"/><stop offset="0.5000" stop-color="#cf3167"/><stop offset="0.5278" stop-color="#d2356a"/><stop offset="0.5556" stop-color="#d7416f"/><stop offset="0.5833" stop-color="#de5276"/><stop offset="0.6111" stop-color="#e9687f"/><stop offset="0.6389" stop-color="#f68089"/><stop offset="0.6574" stop-color="#f9868c"/><stop offset="0.6759" stop-color="#fc8b8e"/><stop offset="0.6944" stop-color="#ff9090"/><stop offset="0.7130" stop-color="#fd9393"/><stop offset="0.7315" stop-color="#fc9696"/><stop offset="0.7500" stop-color="#fa9999"/><stop offset="0.7694" stop-color="#f6a0a0"/><stop offset="0.7889" stop-color="#f1a7a7"/><stop offset="0.8111" stop-color="#ecb0b0"/><stop offset="0.8333" stop-color="#e7b9b9"/><stop offset="0.8500" stop-color="#e0bebe"/><stop offset="0.8667" stop-color="#d9c3c3"/><stop offset="0.8833" stop-color="#d8c4c4"/><stop offset="0.9000" stop-color="#d7c5c5"/><stop offset="0.9167" stop-color="#d6c5c5"/><stop offset="0.9333" stop-color="#d5c6c6"/><stop offset="0.9500" stop-color="#d4c7c7"/><stop offset="0.9667" stop-color="#d3c7c7"/><stop offset="0.9833" stop-color="#d2c8c8"/><stop offset="1.0000" stop-color="#d2c9c9"/></linearGradient><filter id="bl2" x="-20%" y="-20%" width="140%" height="140%"><feGaussianBlur stdDeviation="2.5"/></filter><linearGradient id="lg2" gradientUnits="userSpaceOnUse" x1="0" y1="0.5" x2="0" y2="73.5"><stop offset="0.0000" stop-color="#f27886"/><stop offset="0.0167" stop-color="#f27886"/><stop offset="0.0333" stop-color="#f27886"/><stop offset="0.0500" stop-color="#f27886"/><stop offset="0.0667" stop-color="#f27886"/><stop offset="0.0833" stop-color="#f27886"/><stop offset="0.1019" stop-color="#e9687f"/><stop offset="0.1204" stop-color="#e05878"/><stop offset="0.1389" stop-color="#db4c73"/><stop offset="0.1574" stop-color="#db4c73"/><stop offset="0.1759" stop-color="#db4c73"/><stop offset="0.1944" stop-color="#db4c73"/><stop offset="0.2130" stop-color="#de5276"/><stop offset="0.2315" stop-color="#e05878"/><stop offset="0.2500" stop-color="#e4607b"/><stop offset="0.2685" stop-color="#e4607b"/><stop offset="0.2870" stop-color="#e4607b"/><stop offset="0.3056" stop-color="#e4607b"/><stop offset="0.3241" stop-color="#df5677"/><stop offset="0.3426" stop-color="#dc4e74"/><stop offset="0.3611" stop-color="#d94671"/><stop offset="0.3796" stop-color="#d53d6d"/><stop offset="0.3981" stop-color="#d13369"/><stop offset="0.4167" stop-color="#cb3463"/><stop offset="0.4352" stop-color="#c6375e"/><stop offset="0.4537" stop-color="#c13b59"/><stop offset="0.4722" stop-color="#bd3e55"/><stop offset="0.4907" stop-color="#c13b59"/><stop offset="0.5093" stop-color="#c6375e"/><stop offset="0.5278" stop-color="#cb3463"/><stop offset="0.5444" stop-color="#d2346a"/><stop offset="0.5611" stop-color="#d63e6e"/><stop offset="0.5778" stop-color="#da4972"/><stop offset="0.5944" stop-color="#de5376"/><stop offset="0.6111" stop-color="#e4607b"/><stop offset="0.6285" stop-color="#e5617c"/><stop offset="0.6458" stop-color="#e5627c"/><stop offset="0.6632" stop-color="#e6637d"/><stop offset="0.6806" stop-color="#e7647d"/><stop offset="0.6979" stop-color="#e7657d"/><stop offset="0.7153" stop-color="#e8667e"/><stop offset="0.7326" stop-color="#e8677e"/><stop offset="0.7500" stop-color="#e9687f"/><stop offset="0.7667" stop-color="#e9687f"/><stop offset="0.7833" stop-color="#e9687f"/><stop offset="0.8000" stop-color="#e9687f"/><stop offset="0.8167" stop-color="#e9687f"/><stop offset="0.8333" stop-color="#e9687f"/><stop offset="0.8500" stop-color="#e9687f"/><stop offset="0.8667" stop-color="#e9687f"/><stop offset="0.8833" stop-color="#e9687f"/><stop offset="0.9000" stop-color="#e9687f"/><stop offset="0.9167" stop-color="#e9687f"/><stop offset="0.9333" stop-color="#e9687f"/><stop offset="0.9500" stop-color="#e9687f"/><stop offset="0.9667" stop-color="#e9687f"/><stop offset="0.9833" stop-color="#e9687f"/><stop offset="1.0000" stop-color="#e9687f"/></linearGradient><filter id="lb2" x="-20%" y="-20%" width="140%" height="140%"><feGaussianBlur stdDeviation="1.5"/></filter><linearGradient id="cb2" gradientUnits="userSpaceOnUse" x1="357.5" y1="0" x2="488.5" y2="0"><stop offset="0.0000" stop-color="#b028f8"/><stop offset="0.0400" stop-color="#a020f0"/><stop offset="0.1150" stop-color="#8010e0"/><stop offset="0.1920" stop-color="#4800d0"/><stop offset="0.2620" stop-color="#4828d0"/><stop offset="0.3230" stop-color="#7070f8"/><stop offset="0.3850" stop-color="#70a8e8"/><stop offset="0.4450" stop-color="#60e0d8"/><stop offset="0.4910" stop-color="#c8d0d0"/><stop offset="0.5210" stop-color="#e8b8b8"/><stop offset="0.5670" stop-color="#ff9090"/><stop offset="0.6130" stop-color="#e05878"/><stop offset="0.6590" stop-color="#d03068"/><stop offset="0.7050" stop-color="#b04848"/><stop offset="0.7510" stop-color="#c06020"/><stop offset="0.7820" stop-color="#d87010"/><stop offset="0.8280" stop-color="#f0a020"/><stop offset="0.8740" stop-color="#f8c030"/><stop offset="0.9330" stop-color="#ffe050"/><stop offset="0.9800" stop-color="#ffff70"/><stop offset="1.0000" stop-color="#ffff80"/></linearGradient><linearGradient id="og3" gradientUnits="userSpaceOnUse" x1="0" y1="0.5" x2="0" y2="73.5"><stop offset="0.0000" stop-color="#73ddd7"/><stop offset="0.0100" stop-color="#64dfd8"/><stop offset="0.0178" stop-color="#709deb"/><stop offset="0.0444" stop-color="#707ff4"/><stop offset="0.0722" stop-color="#6a65f2"/><stop offset="0.1000" stop-color="#5845e0"/><stop offset="0.1167" stop-color="#4827d0"/><stop offset="0.1333" stop-color="#4818d0"/><stop offset="0.1556" stop-color="#480cd0"/><stop offset="0.1778" stop-color="#4801d0"/><stop offset="0.2000" stop-color="#5604d4"/><stop offset="0.2222" stop-color="#6408d8"/><stop offset="0.2500" stop-color="#8613e3"/><stop offset="0.2685" stop-color="#8d17e7"/><stop offset="0.2870" stop-color="#941aea"/><stop offset="0.3056" stop-color="#9a1ded"/><stop offset="0.3241" stop-color="#9c1eee"/><stop offset="0.3426" stop-color="#9e1fef"/><stop offset="0.3611" stop-color="#a020f0"/><stop offset="0.3796" stop-color="#a120f0"/><stop offset="0.3981" stop-color="#a221f1"/><stop offset="0.4167" stop-color="#a321f1"/><stop offset="0.4361" stop-color="#a422f2"/><stop offset="0.4556" stop-color="#a523f3"/><stop offset="0.4833" stop-color="#971cec"/><stop offset="0.5000" stop-color="#8613e3"/><stop offset="0.5278" stop-color="#8110e0"/><stop offset="0.5472" stop-color="#6909d9"/><stop offset="0.5667" stop-color="#5102d2"/><stop offset="0.5889" stop-color="#5604d4"/><stop offset="0.6111" stop-color="#5a05d5"/><stop offset="0.6333" stop-color="#5f07d7"/><stop offset="0.6556" stop-color="#6408d8"/><stop offset="0.6750" stop-color="#5604d4"/><stop offset="0.6944" stop-color="#4801d0"/><stop offset="0.7139" stop-color="#4803d0"/><stop offset="0.7333" stop-color="#4805d0"/><stop offset="0.7556" stop-color="#4806d0"/><stop offset="0.7778" stop-color="#4808d0"/><stop offset="0.7944" stop-color="#4810d0"/><stop offset="0.8111" stop-color="#4818d0"/><stop offset="0.8389" stop-color="#4f35d7"/><stop offset="0.8556" stop-color="#6a65f2"/><stop offset="0.8778" stop-color="#708bf0"/><stop offset="0.8952" stop-color="#708df0"/><stop offset="0.9127" stop-color="#708fef"/><stop offset="0.9302" stop-color="#7091ef"/><stop offset="0.9476" stop-color="#7092ee"/><stop offset="0.9651" stop-color="#7094ee"/><stop offset="0.9825" stop-color="#7096ed"/><stop offset="1.0000" stop-color="#7097ed"/></linearGradient><filter id="bl3" x="-20%" y="-20%" width="140%" height="140%"><feGaussianBlur stdDeviation="2.5"/></filter><linearGradient id="lg3" gradientUnits="userSpaceOnUse" x1="0" y1="0.5" x2="0" y2="73.5"><stop offset="0.0000" stop-color="#7079f5"/><stop offset="0.0185" stop-color="#7073f7"/><stop offset="0.0370" stop-color="#6e6cf6"/><stop offset="0.0556" stop-color="#6a65f2"/><stop offset="0.0778" stop-color="#5f51e7"/><stop offset="0.1000" stop-color="#543ddc"/><stop offset="0.1194" stop-color="#4808d0"/><stop offset="0.1389" stop-color="#730cdc"/><stop offset="0.1583" stop-color="#8613e3"/><stop offset="0.1778" stop-color="#951aea"/><stop offset="0.2000" stop-color="#7f10e0"/><stop offset="0.2222" stop-color="#5a05d5"/><stop offset="0.2500" stop-color="#4818d0"/><stop offset="0.2685" stop-color="#4822d0"/><stop offset="0.2870" stop-color="#4d30d5"/><stop offset="0.3056" stop-color="#5845e0"/><stop offset="0.3241" stop-color="#6a65f2"/><stop offset="0.3426" stop-color="#707ff4"/><stop offset="0.3611" stop-color="#7097ed"/><stop offset="0.3796" stop-color="#7093ee"/><stop offset="0.3981" stop-color="#708fef"/><stop offset="0.4167" stop-color="#708bf0"/><stop offset="0.4352" stop-color="#7071f8"/><stop offset="0.4537" stop-color="#5e50e6"/><stop offset="0.4722" stop-color="#4b2ed3"/><stop offset="0.5000" stop-color="#4818d0"/><stop offset="0.5185" stop-color="#481ed0"/><stop offset="0.5370" stop-color="#4824d0"/><stop offset="0.5556" stop-color="#4b2ed3"/><stop offset="0.5741" stop-color="#5a48e2"/><stop offset="0.5926" stop-color="#6862f0"/><stop offset="0.6111" stop-color="#7079f5"/><stop offset="0.6296" stop-color="#7083f2"/><stop offset="0.6481" stop-color="#708df0"/><stop offset="0.6667" stop-color="#7097ed"/><stop offset="0.6833" stop-color="#7091ee"/><stop offset="0.7000" stop-color="#708bf0"/><stop offset="0.7167" stop-color="#7085f2"/><stop offset="0.7333" stop-color="#707ff4"/><stop offset="0.7500" stop-color="#7079f5"/><stop offset="0.7667" stop-color="#7079f5"/><stop offset="0.7833" stop-color="#7079f5"/><stop offset="0.8000" stop-color="#7079f5"/><stop offset="0.8167" stop-color="#7079f5"/><stop offset="0.8333" stop-color="#7079f5"/><stop offset="0.8500" stop-color="#7079f5"/><stop offset="0.8667" stop-color="#7079f5"/><stop offset="0.8833" stop-color="#7079f5"/><stop offset="0.9000" stop-color="#7079f5"/><stop offset="0.9167" stop-color="#7079f5"/><stop offset="0.9333" stop-color="#7079f5"/><stop offset="0.9500" stop-color="#7079f5"/><stop offset="0.9667" stop-color="#7079f5"/><stop offset="0.9833" stop-color="#7079f5"/><stop offset="1.0000" stop-color="#7079f5"/></linearGradient><filter id="lb3" x="-20%" y="-20%" width="140%" height="140%"><feGaussianBlur stdDeviation="1.5"/></filter><linearGradient id="cb3" gradientUnits="userSpaceOnUse" x1="22.5" y1="0" x2="153.5" y2="0"><stop offset="0.0000" stop-color="#b028f8"/><stop offset="0.0400" stop-color="#a020f0"/><stop offset="0.1150" stop-color="#8010e0"/><stop offset="0.1920" stop-color="#4800d0"/><stop offset="0.2620" stop-color="#4828d0"/><stop offset="0.3230" stop-color="#7070f8"/><stop offset="0.3850" stop-color="#70a8e8"/><stop offset="0.4450" stop-color="#60e0d8"/><stop offset="0.4910" stop-color="#c8d0d0"/><stop offset="0.5210" stop-color="#e8b8b8"/><stop offset="0.5670" stop-color="#ff9090"/><stop offset="0.6130" stop-color="#e05878"/><stop offset="0.6590" stop-color="#d03068"/><stop offset="0.7050" stop-color="#b04848"/><stop offset="0.7510" stop-color="#c06020"/><stop offset="0.7820" stop-color="#d87010"/><stop offset="0.8280" stop-color="#f0a020"/><stop offset="0.8740" stop-color="#f8c030"/><stop offset="0.9330" stop-color="#ffe050"/><stop offset="0.9800" stop-color="#ffff70"/><stop offset="1.0000" stop-color="#ffff80"/></linearGradient><linearGradient id="og4" gradientUnits="userSpaceOnUse" x1="0" y1="0.5" x2="0" y2="73.5"><stop offset="0.0000" stop-color="#73ddd7"/><stop offset="0.0100" stop-color="#64dfd8"/><stop offset="0.0178" stop-color="#709deb"/><stop offset="0.0444" stop-color="#707ff4"/><stop offset="0.0556" stop-color="#7076f6"/><stop offset="0.0722" stop-color="#655ced"/><stop offset="0.1000" stop-color="#4b2ed3"/><stop offset="0.1167" stop-color="#481dd0"/><stop offset="0.1333" stop-color="#480ed0"/><stop offset="0.1556" stop-color="#4805d0"/><stop offset="0.1778" stop-color="#4f02d2"/><stop offset="0.2000" stop-color="#5c06d6"/><stop offset="0.2222" stop-color="#6909d9"/><stop offset="0.2500" stop-color="#8613e3"/><stop offset="0.2778" stop-color="#8e17e7"/><stop offset="0.3056" stop-color="#961beb"/><stop offset="0.3333" stop-color="#971cec"/><stop offset="0.3611" stop-color="#9c1eee"/><stop offset="0.3889" stop-color="#9f1fef"/><stop offset="0.4167" stop-color="#a322f2"/><stop offset="0.4333" stop-color="#a623f3"/><stop offset="0.4556" stop-color="#ac26f6"/><stop offset="0.4667" stop-color="#a824f4"/><stop offset="0.4833" stop-color="#9e1fef"/><stop offset="0.4889" stop-color="#971cec"/><stop offset="0.5000" stop-color="#8915e5"/><stop offset="0.5222" stop-color="#8d17e7"/><stop offset="0.5278" stop-color="#8e17e7"/><stop offset="0.5444" stop-color="#8814e4"/><stop offset="0.5667" stop-color="#770ddd"/><stop offset="0.5833" stop-color="#7e0fdf"/><stop offset="0.6111" stop-color="#8211e1"/><stop offset="0.6333" stop-color="#8512e2"/><stop offset="0.6556" stop-color="#8814e4"/><stop offset="0.6750" stop-color="#7f10e0"/><stop offset="0.6944" stop-color="#700bdb"/><stop offset="0.7139" stop-color="#6e0bdb"/><stop offset="0.7333" stop-color="#6b0ada"/><stop offset="0.7500" stop-color="#6a0ada"/><stop offset="0.7778" stop-color="#5e06d6"/><stop offset="0.7889" stop-color="#5403d3"/><stop offset="0.8111" stop-color="#4804d0"/><stop offset="0.8167" stop-color="#4809d0"/><stop offset="0.8389" stop-color="#4b2ed3"/><stop offset="0.8444" stop-color="#5845e0"/><stop offset="0.8556" stop-color="#6a65f2"/><stop offset="0.8667" stop-color="#7079f5"/><stop offset="0.8778" stop-color="#708bf0"/><stop offset="0.8952" stop-color="#708df0"/><stop offset="0.9127" stop-color="#708fef"/><stop offset="0.9302" stop-color="#7091ef"/><stop offset="0.9476" stop-color="#7092ee"/><stop offset="0.9651" stop-color="#7094ee"/><stop offset="0.9825" stop-color="#7096ed"/><stop offset="1.0000" stop-color="#7097ed"/></linearGradient><filter id="bl4" x="-20%" y="-20%" width="140%" height="140%"><feGaussianBlur stdDeviation="2.5"/></filter><linearGradient id="lg4" gradientUnits="userSpaceOnUse" x1="0" y1="0.5" x2="0" y2="73.5"><stop offset="0.0000" stop-color="#7091ee"/><stop offset="0.0185" stop-color="#708bf0"/><stop offset="0.0370" stop-color="#7085f2"/><stop offset="0.0556" stop-color="#707ff4"/><stop offset="0.0778" stop-color="#7070f8"/><stop offset="0.1000" stop-color="#655ded"/><stop offset="0.1194" stop-color="#4818d0"/><stop offset="0.1389" stop-color="#5f07d7"/><stop offset="0.1583" stop-color="#780ede"/><stop offset="0.1778" stop-color="#8915e5"/><stop offset="0.2000" stop-color="#6b0ada"/><stop offset="0.2222" stop-color="#4801d0"/><stop offset="0.2500" stop-color="#4827d0"/><stop offset="0.2685" stop-color="#523bda"/><stop offset="0.2870" stop-color="#5e50e6"/><stop offset="0.3056" stop-color="#6a65f2"/><stop offset="0.3241" stop-color="#707ff4"/><stop offset="0.3426" stop-color="#7097ed"/><stop offset="0.3611" stop-color="#6eb0e6"/><stop offset="0.3796" stop-color="#6face7"/><stop offset="0.3981" stop-color="#70a7e8"/><stop offset="0.4167" stop-color="#70a3e9"/><stop offset="0.4352" stop-color="#7089f1"/><stop offset="0.4537" stop-color="#6f6ff7"/><stop offset="0.4722" stop-color="#5d4de5"/><stop offset="0.5000" stop-color="#4827d0"/><stop offset="0.5185" stop-color="#4e33d6"/><stop offset="0.5370" stop-color="#5540dd"/><stop offset="0.5556" stop-color="#5d4de5"/><stop offset="0.5741" stop-color="#6b67f3"/><stop offset="0.5926" stop-color="#707df4"/><stop offset="0.6111" stop-color="#7091ee"/><stop offset="0.6296" stop-color="#709bec"/><stop offset="0.6481" stop-color="#70a5e9"/><stop offset="0.6667" stop-color="#6eb0e6"/><stop offset="0.6833" stop-color="#70aae8"/><stop offset="0.7000" stop-color="#70a3e9"/><stop offset="0.7167" stop-color="#709deb"/><stop offset="0.7333" stop-color="#7097ed"/><stop offset="0.7500" stop-color="#7091ee"/><stop offset="0.7667" stop-color="#7091ee"/><stop offset="0.7833" stop-color="#7091ee"/><stop offset="0.8000" stop-color="#7091ee"/><stop offset="0.8167" stop-color="#7091ee"/><stop offset="0.8333" stop-color="#7091ee"/><stop offset="0.8500" stop-color="#7091ee"/><stop offset="0.8667" stop-color="#7091ee"/><stop offset="0.8833" stop-color="#7091ee"/><stop offset="0.9000" stop-color="#7091ee"/><stop offset="0.9167" stop-color="#7091ee"/><stop offset="0.9333" stop-color="#7091ee"/><stop offset="0.9500" stop-color="#7091ee"/><stop offset="0.9667" stop-color="#7091ee"/><stop offset="0.9833" stop-color="#7091ee"/><stop offset="1.0000" stop-color="#7091ee"/></linearGradient><filter id="lb4" x="-20%" y="-20%" width="140%" height="140%"><feGaussianBlur stdDeviation="1.5"/></filter><linearGradient id="cb4" gradientUnits="userSpaceOnUse" x1="189.5" y1="0" x2="320.5" y2="0"><stop offset="0.0000" stop-color="#b028f8"/><stop offset="0.0400" stop-color="#a020f0"/><stop offset="0.1150" stop-color="#8010e0"/><stop offset="0.1920" stop-color="#4800d0"/><stop offset="0.2620" stop-color="#4828d0"/><stop offset="0.3230" stop-color="#7070f8"/><stop offset="0.3850" stop-color="#70a8e8"/><stop offset="0.4450" stop-color="#60e0d8"/><stop offset="0.4910" stop-color="#c8d0d0"/><stop offset="0.5210" stop-color="#e8b8b8"/><stop offset="0.5670" stop-color="#ff9090"/><stop offset="0.6130" stop-color="#e05878"/><stop offset="0.6590" stop-color="#d03068"/><stop offset="0.7050" stop-color="#b04848"/><stop offset="0.7510" stop-color="#c06020"/><stop offset="0.7820" stop-color="#d87010"/><stop offset="0.8280" stop-color="#f0a020"/><stop offset="0.8740" stop-color="#f8c030"/><stop offset="0.9330" stop-color="#ffe050"/><stop offset="0.9800" stop-color="#ffff70"/><stop offset="1.0000" stop-color="#ffff80"/></linearGradient><linearGradient id="og5" gradientUnits="userSpaceOnUse" x1="0" y1="0.5" x2="0" y2="73.5"><stop offset="0.0000" stop-color="#61dbd9"/><stop offset="0.0111" stop-color="#67c9df"/><stop offset="0.0278" stop-color="#6eb0e6"/><stop offset="0.0556" stop-color="#709deb"/><stop offset="0.0778" stop-color="#707ff4"/><stop offset="0.1000" stop-color="#6155e9"/><stop offset="0.1167" stop-color="#4f35d7"/><stop offset="0.1333" stop-color="#481fd0"/><stop offset="0.1556" stop-color="#4816d0"/><stop offset="0.1778" stop-color="#480cd0"/><stop offset="0.2000" stop-color="#4803d0"/><stop offset="0.2222" stop-color="#5102d2"/><stop offset="0.2389" stop-color="#5f07d7"/><stop offset="0.2556" stop-color="#6e0bdb"/><stop offset="0.2722" stop-color="#6408d8"/><stop offset="0.2889" stop-color="#5a05d5"/><stop offset="0.3111" stop-color="#5102d2"/><stop offset="0.3333" stop-color="#4801d0"/><stop offset="0.3556" stop-color="#4805d0"/><stop offset="0.3778" stop-color="#4808d0"/><stop offset="0.3972" stop-color="#4801d0"/><stop offset="0.4167" stop-color="#5102d2"/><stop offset="0.4333" stop-color="#6408d8"/><stop offset="0.4500" stop-color="#780ede"/><stop offset="0.4778" stop-color="#6408d8"/><stop offset="0.5000" stop-color="#480cd0"/><stop offset="0.5278" stop-color="#4818d0"/><stop offset="0.5556" stop-color="#5845e0"/><stop offset="0.5722" stop-color="#6155e9"/><stop offset="0.5889" stop-color="#6a65f2"/><stop offset="0.6056" stop-color="#5845e0"/><stop offset="0.6222" stop-color="#4827d0"/><stop offset="0.6389" stop-color="#481ad0"/><stop offset="0.6556" stop-color="#480cd0"/><stop offset="0.6750" stop-color="#4812d0"/><stop offset="0.6944" stop-color="#4818d0"/><stop offset="0.7139" stop-color="#481bd0"/><stop offset="0.7333" stop-color="#481fd0"/><stop offset="0.7556" stop-color="#4823d0"/><stop offset="0.7778" stop-color="#4827d0"/><stop offset="0.7944" stop-color="#5239da"/><stop offset="0.8111" stop-color="#5d4de5"/><stop offset="0.8389" stop-color="#6e6cf6"/><stop offset="0.8611" stop-color="#708bf0"/><stop offset="0.8778" stop-color="#70a3e9"/><stop offset="0.8952" stop-color="#70a2ea"/><stop offset="0.9127" stop-color="#70a0ea"/><stop offset="0.9302" stop-color="#709eeb"/><stop offset="0.9476" stop-color="#709deb"/><stop offset="0.9651" stop-color="#709bec"/><stop offset="0.9825" stop-color="#7099ec"/><stop offset="1.0000" stop-color="#7097ed"/></linearGradient><filter id="bl5" x="-20%" y="-20%" width="140%" height="140%"><feGaussianBlur stdDeviation="2.5"/></filter><linearGradient id="lg5" gradientUnits="userSpaceOnUse" x1="0" y1="0.5" x2="0" y2="73.5"><stop offset="0.0000" stop-color="#7097ed"/><stop offset="0.0167" stop-color="#708eef"/><stop offset="0.0333" stop-color="#7084f2"/><stop offset="0.0500" stop-color="#707bf5"/><stop offset="0.0667" stop-color="#7071f8"/><stop offset="0.0833" stop-color="#6a65f2"/><stop offset="0.1019" stop-color="#5138d9"/><stop offset="0.1204" stop-color="#481ad0"/><stop offset="0.1389" stop-color="#4805d0"/><stop offset="0.1583" stop-color="#4e02d2"/><stop offset="0.1778" stop-color="#5a05d5"/><stop offset="0.2000" stop-color="#480ed0"/><stop offset="0.2222" stop-color="#4b2ed3"/><stop offset="0.2407" stop-color="#5e50e6"/><stop offset="0.2593" stop-color="#7071f8"/><stop offset="0.2778" stop-color="#708bf0"/><stop offset="0.2963" stop-color="#709fea"/><stop offset="0.3148" stop-color="#6db4e5"/><stop offset="0.3333" stop-color="#67c9df"/><stop offset="0.3500" stop-color="#68c5e0"/><stop offset="0.3667" stop-color="#69c1e1"/><stop offset="0.3833" stop-color="#6abde2"/><stop offset="0.4000" stop-color="#6bbae3"/><stop offset="0.4167" stop-color="#6cb6e4"/><stop offset="0.4333" stop-color="#70aae8"/><stop offset="0.4500" stop-color="#709deb"/><stop offset="0.4667" stop-color="#7091ee"/><stop offset="0.4833" stop-color="#7085f2"/><stop offset="0.5000" stop-color="#7079f5"/><stop offset="0.5167" stop-color="#7082f3"/><stop offset="0.5333" stop-color="#708af1"/><stop offset="0.5500" stop-color="#7093ee"/><stop offset="0.5667" stop-color="#709bec"/><stop offset="0.5833" stop-color="#70a3e9"/><stop offset="0.6000" stop-color="#6db4e5"/><stop offset="0.6167" stop-color="#68c4e0"/><stop offset="0.6333" stop-color="#63d4db"/><stop offset="0.6500" stop-color="#6aded7"/><stop offset="0.6667" stop-color="#91d8d4"/><stop offset="0.6833" stop-color="#73ddd7"/><stop offset="0.7000" stop-color="#61dbd9"/><stop offset="0.7167" stop-color="#65cfdd"/><stop offset="0.7333" stop-color="#68c2e0"/><stop offset="0.7500" stop-color="#6cb6e4"/><stop offset="0.7667" stop-color="#6cb6e4"/><stop offset="0.7833" stop-color="#6cb6e4"/><stop offset="0.8000" stop-color="#6cb6e4"/><stop offset="0.8167" stop-color="#6cb6e4"/><stop offset="0.8333" stop-color="#6cb6e4"/><stop offset="0.8500" stop-color="#6cb6e4"/><stop offset="0.8667" stop-color="#6cb6e4"/><stop offset="0.8833" stop-color="#6cb6e4"/><stop offset="0.9000" stop-color="#6cb6e4"/><stop offset="0.9167" stop-color="#6cb6e4"/><stop offset="0.9333" stop-color="#6cb6e4"/><stop offset="0.9500" stop-color="#6cb6e4"/><stop offset="0.9667" stop-color="#6cb6e4"/><stop offset="0.9833" stop-color="#6cb6e4"/><stop offset="1.0000" stop-color="#6cb6e4"/></linearGradient><filter id="lb5" x="-20%" y="-20%" width="140%" height="140%"><feGaussianBlur stdDeviation="1.5"/></filter><linearGradient id="cb5" gradientUnits="userSpaceOnUse" x1="357.5" y1="0" x2="488.5" y2="0"><stop offset="0.0000" stop-color="#b028f8"/><stop offset="0.0400" stop-color="#a020f0"/><stop offset="0.1150" stop-color="#8010e0"/><stop offset="0.1920" stop-color="#4800d0"/><stop offset="0.2620" stop-color="#4828d0"/><stop offset="0.3230" stop-color="#7070f8"/><stop offset="0.3850" stop-color="#70a8e8"/><stop offset="0.4450" stop-color="#60e0d8"/><stop offset="0.4910" stop-color="#c8d0d0"/><stop offset="0.5210" stop-color="#e8b8b8"/><stop offset="0.5670" stop-color="#ff9090"/><stop offset="0.6130" stop-color="#e05878"/><stop offset="0.6590" stop-color="#d03068"/><stop offset="0.7050" stop-color="#b04848"/><stop offset="0.7510" stop-color="#c06020"/><stop offset="0.7820" stop-color="#d87010"/><stop offset="0.8280" stop-color="#f0a020"/><stop offset="0.8740" stop-color="#f8c030"/><stop offset="0.9330" stop-color="#ffe050"/><stop offset="0.9800" stop-color="#ffff70"/><stop offset="1.0000" stop-color="#ffff80"/></linearGradient></defs>
<rect width="500" height="247" fill="#fff"/>
<g transform="translate(16,15)"><g clip-path="url(#mapclip)"><rect x="0" y="0" width="145" height="75" fill="url(#og0)"/><g filter="url(#bl0)"><ellipse cx="30.29" cy="45.92" rx="9.93" ry="2.84" fill="#a24ec6"/><ellipse cx="34.26" cy="49.17" rx="5.96" ry="2.43" fill="#8f61d9"/><ellipse cx="113.71" cy="51.6" rx="7.94" ry="1.22" fill="#a749c1"/><ellipse cx="23.54" cy="27.27" rx="5.56" ry="4.06" fill="#57bd84"/><ellipse cx="28.31" cy="29.7" rx="3.18" ry="2.43" fill="#8cd957"/><ellipse cx="63.26" cy="29.7" rx="4.77" ry="3.65" fill="#87c66d"/><ellipse cx="64.85" cy="32.13" rx="2.38" ry="2.03" fill="#90d060"/><ellipse cx="73.99" cy="43.08" rx="4.77" ry="4.06" fill="#14a4b8"/><ellipse cx="56.11" cy="24.83" rx="9.93" ry="4.87" fill="#357ecd"/><ellipse cx="135.56" cy="31.32" rx="11.92" ry="3.24" fill="#5f78e4"/><ellipse cx="8.44" cy="33.76" rx="9.93" ry="2.43" fill="#3e79d6"/><ellipse cx="135.56" cy="21.59" rx="9.93" ry="3.24" fill="#13a8b6"/><ellipse cx="127.61" cy="24.83" rx="3.97" ry="2.43" fill="#15b1ad"/><ellipse cx="30.29" cy="37.41" rx="9.93" ry="1.01" fill="#14a4b8"/><ellipse cx="97.82" cy="30.92" rx="4.77" ry="3.24" fill="#12abb3"/><ellipse cx="106.96" cy="31.32" rx="2.38" ry="2.43" fill="#169dbd"/><ellipse cx="37.04" cy="27.67" rx="3.97" ry="2.43" fill="#13a8b6"/><ellipse cx="42.21" cy="30.92" rx="3.97" ry="2.03" fill="#14a4b8"/><ellipse cx="38.24" cy="12.67" rx="2.38" ry="1.62" fill="#1e92c2"/><ellipse cx="101.79" cy="39.43" rx="13.9" ry="1.62" fill="#1899bf"/><ellipse cx="119.67" cy="39.43" rx="7.94" ry="2.03" fill="#14a4b8"/><ellipse cx="113.71" cy="36.19" rx="3.97" ry="2.03" fill="#12abb3"/><ellipse cx="131.58" cy="44.3" rx="5.96" ry="2.43" fill="#4778db"/><ellipse cx="95.83" cy="43.08" rx="7.94" ry="2.84" fill="#7078f0"/><ellipse cx="121.65" cy="24.02" rx="3.97" ry="3.24" fill="#6fc179"/><ellipse cx="60.08" cy="29.7" rx="5.96" ry="2.84" fill="#90cb65"/><ellipse cx="54.12" cy="30.92" rx="3.97" ry="2.03" fill="#31b69a"/><ellipse cx="96.63" cy="30.92" rx="3.97" ry="2.43" fill="#6fc179"/><ellipse cx="18.38" cy="28.08" rx="7.94" ry="3.24" fill="#2ab49f"/><ellipse cx="12.42" cy="44.3" rx="9.93" ry="2.43" fill="#7378f3"/><ellipse cx="107.75" cy="43.08" rx="9.93" ry="2.43" fill="#7977f6"/></g><g filter="url(#bl0)"><path d="M69.82,22.6 71.6,21.79 73.19,19.76 74.78,19.24 75.97,19.07 76.97,18.43 79.55,19.97 81.14,20.58 82.33,20.37 83.12,20.17 83.12,19.16 83.92,18.14 85.9,18.14 87.49,17.74 88.68,19.16 88.68,20.37 86.3,21.99 86.3,24.43 83.92,24.51 79.94,24.75 75.97,23.62 72,22.72Z" fill="#87e24e"/><path d="M84.91,24.83 85.9,25.64 87.09,28.08 89.08,31.93 89.48,31.93 88.68,30.11 87.09,26.86 85.9,25.04Z" fill="#90d060"/><path d="M91.07,24.63 92.26,25.24 94.44,26.25 94.24,27.06 92.66,27.27 91.86,26.46 91.07,25.64Z" fill="#90d060"/></g><g clip-path="url(#landclip)"><rect x="0" y="0" width="145" height="75" fill="url(#lg0)"/><g filter="url(#lb0)"><ellipse cx="12.42" cy="10.64" rx="8.74" ry="3.24" fill="#15b1ad"/><ellipse cx="30.29" cy="11.86" rx="9.93" ry="2.43" fill="#31b69a"/><ellipse cx="34.26" cy="20.78" rx="9.93" ry="3.65" fill="#82ec44"/><ellipse cx="30.29" cy="26.86" rx="3.97" ry="3.24" fill="#87e24e"/><ellipse cx="77.96" cy="16.72" rx="7.94" ry="4.06" fill="#80fb0f"/><ellipse cx="75.97" cy="28.08" rx="11.92" ry="4.06" fill="#80f919"/><ellipse cx="87.89" cy="24.83" rx="5.96" ry="3.24" fill="#80f919"/><ellipse cx="111.72" cy="11.86" rx="15.89" ry="4.06" fill="#87e24e"/><ellipse cx="131.58" cy="10.64" rx="9.93" ry="3.24" fill="#31b69a"/><ellipse cx="108.54" cy="23.21" rx="3.58" ry="1.14" fill="#258bc4"/><ellipse cx="115.69" cy="24.83" rx="5.96" ry="4.06" fill="#80f236"/><ellipse cx="102.98" cy="28.89" rx="3.18" ry="3.24" fill="#85e749"/><ellipse cx="112.91" cy="30.92" rx="3.18" ry="3.24" fill="#57bd84"/><ellipse cx="80.74" cy="37" rx="4.77" ry="3.24" fill="#2ab49f"/><ellipse cx="81.93" cy="45.11" rx="4.77" ry="4.06" fill="#90d060"/><ellipse cx="47.37" cy="39.03" rx="5.96" ry="4.06" fill="#3fb890"/><ellipse cx="54.12" cy="41.87" rx="3.18" ry="3.24" fill="#90cb65"/><ellipse cx="45.39" cy="45.92" rx="1.59" ry="2.43" fill="#80fb0f"/><ellipse cx="46.58" cy="51.19" rx="2.38" ry="3.24" fill="#8ed45c"/><ellipse cx="44.19" cy="56.47" rx="1.99" ry="2.43" fill="#14a4b8"/><ellipse cx="125.23" cy="47.14" rx="7.94" ry="4.87" fill="#3fb890"/><ellipse cx="121.65" cy="38.22" rx="9.93" ry="3.24" fill="#15b1ad"/><ellipse cx="56.11" cy="6.99" rx="3.97" ry="2.84" fill="#ffffff"/><ellipse cx="55.32" cy="9.42" rx="3.18" ry="2.03" fill="#c8e870"/></g></g><use href="#antarc" fill="#ffffff" transform="translate(0,0.7)"/><use href="#antpen" fill="#502060" fill-opacity="0.85"/><use href="#antedge" stroke="#5a50c0" stroke-width="1.2" fill="none" transform="translate(0,0.5)"/><use href="#antedge" stroke="#c03090" stroke-width="1.2" fill="none" stroke-dasharray="1 2.2" transform="translate(0,0.2)"/><use href="#coast"/></g><path d="M0.5,0 V74.0" stroke="#989494" stroke-width="1" fill="none"/><path d="M0,73.5 H144.0" stroke="#a0a0a0" stroke-width="1" fill="none"/><path d="M143.5,0 V74.0" stroke="#505060" stroke-width="1" fill="none" stroke-opacity="0.8"/><path d="M0,0.5 H144.0" stroke="#d4d4c8" stroke-width="1" fill="none"/></g>
<text x="88" y="9" font-size="4.6" text-anchor="middle" fill="#202020" textLength="64" lengthAdjust="spacingAndGlyphs" xml:space="preserve">a)  Effective radius for ann</text>
<text x="88" y="13.9" font-size="4.6" text-anchor="middle" fill="#202020" textLength="33.2" lengthAdjust="spacingAndGlyphs" xml:space="preserve">U-AC283: GA7</text>
<text x="14.2" y="29.27" font-size="4.5" text-anchor="end" fill="#222" textLength="9.7" lengthAdjust="spacingAndGlyphs" xml:space="preserve">60°N</text>
<text x="14.2" y="41.43" font-size="4.5" text-anchor="end" fill="#222" textLength="9.7" lengthAdjust="spacingAndGlyphs" xml:space="preserve">30°N</text>
<text x="14.2" y="53.6" font-size="4.5" text-anchor="end" fill="#222" textLength="4.3" lengthAdjust="spacingAndGlyphs" xml:space="preserve">0°</text>
<text x="14.2" y="65.77" font-size="4.5" text-anchor="end" fill="#222" textLength="9.3" lengthAdjust="spacingAndGlyphs" xml:space="preserve">30°S</text>
<text x="14.2" y="77.93" font-size="4.5" text-anchor="end" fill="#222" textLength="9.3" lengthAdjust="spacingAndGlyphs" xml:space="preserve">60°S</text>
<text x="40.33" y="94.8" font-size="4.5" text-anchor="middle" fill="#222" textLength="12.9" lengthAdjust="spacingAndGlyphs" xml:space="preserve">120°W</text>
<text x="64.17" y="94.8" font-size="4.5" text-anchor="middle" fill="#222" textLength="10.9" lengthAdjust="spacingAndGlyphs" xml:space="preserve">60°W</text>
<text x="88" y="94.8" font-size="4.5" text-anchor="middle" fill="#222" textLength="4.3" lengthAdjust="spacingAndGlyphs" xml:space="preserve">0°</text>
<text x="111.83" y="94.8" font-size="4.5" text-anchor="middle" fill="#222" textLength="10.7" lengthAdjust="spacingAndGlyphs" xml:space="preserve">60°E</text>
<text x="135.67" y="94.8" font-size="4.5" text-anchor="middle" fill="#222" textLength="12.9" lengthAdjust="spacingAndGlyphs" xml:space="preserve">120°E</text>
<path d="M16.5,109.1 L22.5,105.45 L23.1,105.45 L23.1,112.75 L22.5,112.75Z" fill="#ffff00"/><path d="M159.5,109.1 L153.5,105.45 L152.9,105.45 L152.9,112.75 L153.5,112.75Z" fill="#ff0080"/><rect x="22.5" y="105.45" width="131" height="7.3" fill="url(#cb0)" shape-rendering="crispEdges"/><path d="M16.5,109.1 L22.5,105.45 L153.5,105.45 L159.5,109.1 L153.5,112.75 L22.5,112.75Z" fill="none" stroke="#666" stroke-width="0.45"/><text x="22.5" y="117.85" font-size="4.4" text-anchor="middle" fill="#222" xml:space="preserve">4</text><text x="46.32" y="117.85" font-size="4.4" text-anchor="middle" fill="#222" xml:space="preserve">6</text><text x="70.14" y="117.85" font-size="4.4" text-anchor="middle" fill="#222" xml:space="preserve">8</text><text x="93.95" y="117.85" font-size="4.4" text-anchor="middle" fill="#222" xml:space="preserve">10</text><text x="117.77" y="117.85" font-size="4.4" text-anchor="middle" fill="#222" xml:space="preserve">12</text><text x="141.59" y="117.85" font-size="4.4" text-anchor="middle" fill="#222" xml:space="preserve">14</text>
<g transform="translate(183,15)"><g clip-path="url(#mapclip)"><rect x="0" y="0" width="145" height="75" fill="url(#og1)"/><g filter="url(#bl1)"><ellipse cx="38.24" cy="28.08" rx="4.77" ry="3.24" fill="#fc9696"/><ellipse cx="50.15" cy="24.02" rx="7.94" ry="3.24" fill="#f89c9c"/><ellipse cx="60.08" cy="25.64" rx="5.96" ry="3.24" fill="#f5a2a2"/><ellipse cx="64.06" cy="30.92" rx="3.97" ry="3.24" fill="#f89c9c"/><ellipse cx="77.96" cy="21.99" rx="5.96" ry="2.03" fill="#fc9696"/><ellipse cx="96.63" cy="30.92" rx="4.77" ry="3.24" fill="#f89c9c"/><ellipse cx="106.96" cy="30.92" rx="2.38" ry="2.43" fill="#f89c9c"/><ellipse cx="127.61" cy="24.83" rx="7.94" ry="4.06" fill="#f1a7a7"/><ellipse cx="139.53" cy="22.81" rx="5.96" ry="3.24" fill="#e7b9b9"/><ellipse cx="29.1" cy="30.92" rx="4.77" ry="3.24" fill="#f89c9c"/><ellipse cx="137.54" cy="34.57" rx="11.92" ry="2.43" fill="#60ded8"/><ellipse cx="6.46" cy="34.97" rx="5.96" ry="2.03" fill="#73ddd7"/><ellipse cx="54.12" cy="32.13" rx="4.77" ry="2.43" fill="#a0d6d3"/><ellipse cx="28.31" cy="45.11" rx="7.94" ry="2.43" fill="#6abce2"/><ellipse cx="72" cy="41.06" rx="4.77" ry="3.24" fill="#e0bebe"/><ellipse cx="99.81" cy="38.22" rx="7.94" ry="1.62" fill="#e0bebe"/><ellipse cx="119.67" cy="37" rx="5.96" ry="2.43" fill="#f1a7a7"/><ellipse cx="137.54" cy="47.14" rx="7.94" ry="4.87" fill="#a0d6d3"/></g><g filter="url(#bl1)"><path d="M69.82,22.6 71.6,21.79 73.19,19.76 74.78,19.24 75.97,19.07 76.97,18.43 79.55,19.97 81.14,20.58 82.33,20.37 83.12,20.17 83.12,19.16 83.92,18.14 85.9,18.14 87.49,17.74 88.68,19.16 88.68,20.37 86.3,21.99 86.3,24.43 83.92,24.51 79.94,24.75 75.97,23.62 72,22.72Z" fill="#fc9696"/></g><g clip-path="url(#landclip)"><rect x="0" y="0" width="145" height="75" fill="url(#lg1)"/><g filter="url(#lb1)"><ellipse cx="16.39" cy="12.67" rx="7.94" ry="4.06" fill="#cacece"/><ellipse cx="32.28" cy="10.64" rx="9.93" ry="2.43" fill="#e0bebe"/><ellipse cx="36.25" cy="21.59" rx="5.96" ry="4.06" fill="#ff9090"/><ellipse cx="26.32" cy="20.78" rx="2.38" ry="3.24" fill="#ebb3b3"/><ellipse cx="75.97" cy="28.08" rx="9.93" ry="3.24" fill="#fc9696"/><ellipse cx="81.93" cy="45.92" rx="3.97" ry="3.24" fill="#e0bebe"/><ellipse cx="48.17" cy="37" rx="4.77" ry="2.43" fill="#f5a2a2"/><ellipse cx="47.37" cy="47.14" rx="3.97" ry="4.06" fill="#d9c3c3"/><ellipse cx="125.23" cy="47.14" rx="7.94" ry="4.87" fill="#d2c9c9"/><ellipse cx="106.96" cy="23.62" rx="2.78" ry="1.62" fill="#bed2d1"/><ellipse cx="115.69" cy="11.86" rx="11.92" ry="3.24" fill="#ebb3b3"/><ellipse cx="56.11" cy="6.99" rx="3.97" ry="2.84" fill="#ffffff"/></g></g><use href="#antedge" stroke="#ffffff" stroke-opacity="0.2" stroke-width="2.6" fill="none" transform="translate(0,-1.2)"/><use href="#antarc" fill="#ffffff" transform="translate(0,0.7)"/><use href="#antpen" fill="#403080" fill-opacity="0.85"/><use href="#antedge" stroke="#7a68d8" stroke-width="1.4" fill="none" transform="translate(0,0.5)"/><use href="#antedge" stroke="#c04080" stroke-width="1.4" fill="none" stroke-dasharray="1 2.2" transform="translate(0,0.2)"/><use href="#coast"/></g><path d="M0.5,0 V74.0" stroke="#989494" stroke-width="1" fill="none"/><path d="M0,73.5 H144.0" stroke="#a0a0a0" stroke-width="1" fill="none"/><path d="M143.5,0 V74.0" stroke="#505060" stroke-width="1" fill="none" stroke-opacity="0.8"/><path d="M0,0.5 H144.0" stroke="#d4d4c8" stroke-width="1" fill="none"/></g>
<text x="255" y="9" font-size="4.6" text-anchor="middle" fill="#202020" textLength="64" lengthAdjust="spacingAndGlyphs" xml:space="preserve">b)  Effective radius for ann</text>
<text x="255" y="13.9" font-size="4.6" text-anchor="middle" fill="#202020" textLength="98.6" lengthAdjust="spacingAndGlyphs" xml:space="preserve">U-DT332: GA7_192 minus U-AC283: GA7</text>
<text x="181.2" y="29.27" font-size="4.5" text-anchor="end" fill="#222" textLength="9.7" lengthAdjust="spacingAndGlyphs" xml:space="preserve">60°N</text>
<text x="181.2" y="41.43" font-size="4.5" text-anchor="end" fill="#222" textLength="9.7" lengthAdjust="spacingAndGlyphs" xml:space="preserve">30°N</text>
<text x="181.2" y="53.6" font-size="4.5" text-anchor="end" fill="#222" textLength="4.3" lengthAdjust="spacingAndGlyphs" xml:space="preserve">0°</text>
<text x="181.2" y="65.77" font-size="4.5" text-anchor="end" fill="#222" textLength="9.3" lengthAdjust="spacingAndGlyphs" xml:space="preserve">30°S</text>
<text x="181.2" y="77.93" font-size="4.5" text-anchor="end" fill="#222" textLength="9.3" lengthAdjust="spacingAndGlyphs" xml:space="preserve">60°S</text>
<text x="207.33" y="94.8" font-size="4.5" text-anchor="middle" fill="#222" textLength="12.9" lengthAdjust="spacingAndGlyphs" xml:space="preserve">120°W</text>
<text x="231.17" y="94.8" font-size="4.5" text-anchor="middle" fill="#222" textLength="10.9" lengthAdjust="spacingAndGlyphs" xml:space="preserve">60°W</text>
<text x="255" y="94.8" font-size="4.5" text-anchor="middle" fill="#222" textLength="4.3" lengthAdjust="spacingAndGlyphs" xml:space="preserve">0°</text>
<text x="278.83" y="94.8" font-size="4.5" text-anchor="middle" fill="#222" textLength="10.7" lengthAdjust="spacingAndGlyphs" xml:space="preserve">60°E</text>
<text x="302.67" y="94.8" font-size="4.5" text-anchor="middle" fill="#222" textLength="12.9" lengthAdjust="spacingAndGlyphs" xml:space="preserve">120°E</text>
<text x="255" y="101.2" font-size="4.5" text-anchor="middle" fill="#383838" textLength="62" lengthAdjust="spacingAndGlyphs" xml:space="preserve">Area-weighted rms diff = 0.650</text>
<path d="M183.5,109.1 L189.5,105.45 L190.1,105.45 L190.1,112.75 L189.5,112.75Z" fill="#c030ff"/><path d="M326.5,109.1 L320.5,105.45 L319.9,105.45 L319.9,112.75 L320.5,112.75Z" fill="#ffff80"/><rect x="189.5" y="105.45" width="131" height="7.3" fill="url(#cb1)" shape-rendering="crispEdges"/><path d="M183.5,109.1 L189.5,105.45 L320.5,105.45 L326.5,109.1 L320.5,112.75 L189.5,112.75Z" fill="none" stroke="#666" stroke-width="0.45"/><text x="202.6" y="117.85" font-size="4.4" text-anchor="middle" fill="#222" xml:space="preserve">−6</text><text x="220.07" y="117.85" font-size="4.4" text-anchor="middle" fill="#222" xml:space="preserve">−4</text><text x="237.53" y="117.85" font-size="4.4" text-anchor="middle" fill="#222" xml:space="preserve">−2</text><text x="255" y="117.85" font-size="4.4" text-anchor="middle" fill="#222" xml:space="preserve">0</text><text x="272.47" y="117.85" font-size="4.4" text-anchor="middle" fill="#222" xml:space="preserve">2</text><text x="289.93" y="117.85" font-size="4.4" text-anchor="middle" fill="#222" xml:space="preserve">4</text><text x="307.4" y="117.85" font-size="4.4" text-anchor="middle" fill="#222" xml:space="preserve">6</text>
<g transform="translate(351,15)"><g clip-path="url(#mapclip)"><rect x="0" y="0" width="145" height="75" fill="url(#og2)"/><g filter="url(#bl2)"><ellipse cx="58.1" cy="33.76" rx="5.96" ry="2.03" fill="#de5276"/><ellipse cx="22.35" cy="27.27" rx="5.56" ry="3.65" fill="#e0bebe"/><ellipse cx="60.08" cy="28.89" rx="3.97" ry="2.43" fill="#e7b9b9"/><ellipse cx="37.04" cy="44.3" rx="5.56" ry="4.46" fill="#d2c9c9"/><ellipse cx="70.01" cy="43.08" rx="5.56" ry="4.06" fill="#ebb3b3"/><ellipse cx="103.78" cy="48.36" rx="9.93" ry="3.24" fill="#f1a7a7"/><ellipse cx="111.72" cy="51.19" rx="4.77" ry="3.24" fill="#eeadad"/><ellipse cx="18.38" cy="33.76" rx="15.89" ry="2.03" fill="#d16c14"/><ellipse cx="32.28" cy="34.16" rx="4.77" ry="1.22" fill="#c2611f"/><ellipse cx="131.58" cy="34.97" rx="9.93" ry="2.03" fill="#c7651b"/><ellipse cx="101.79" cy="38.62" rx="9.93" ry="2.03" fill="#bc5a2a"/><ellipse cx="5.27" cy="33.35" rx="5.96" ry="2.03" fill="#cc6818"/><ellipse cx="121.65" cy="39.03" rx="3.97" ry="1.62" fill="#c2611f"/><ellipse cx="139.53" cy="41.06" rx="7.94" ry="1.62" fill="#c6375e"/><ellipse cx="62.07" cy="37.81" rx="4.77" ry="1.22" fill="#ba572f"/><ellipse cx="24.33" cy="38.22" rx="3.18" ry="1.01" fill="#b85335"/><ellipse cx="131.58" cy="20.78" rx="7.94" ry="3.24" fill="#f27886"/><ellipse cx="12.42" cy="20.78" rx="7.94" ry="3.24" fill="#fb888d"/><ellipse cx="8.44" cy="25.64" rx="7.94" ry="2.03" fill="#f1a7a7"/><ellipse cx="56.11" cy="24.02" rx="5.96" ry="2.03" fill="#f1a7a7"/></g><g clip-path="url(#landclip)"><rect x="0" y="0" width="145" height="75" fill="url(#lg2)"/><g filter="url(#lb2)"><ellipse cx="30.29" cy="16.72" rx="7.94" ry="4.87" fill="#fc9696"/><ellipse cx="12.42" cy="11.86" rx="4.77" ry="2.43" fill="#f27886"/><ellipse cx="48.17" cy="39.43" rx="3.97" ry="2.03" fill="#da7512"/><ellipse cx="50.15" cy="35.78" rx="2.38" ry="1.22" fill="#d66f11"/><ellipse cx="79.15" cy="37.81" rx="3.18" ry="2.03" fill="#da7512"/><ellipse cx="73.99" cy="32.13" rx="5.96" ry="1.62" fill="#d66f11"/><ellipse cx="117.68" cy="37" rx="5.96" ry="2.03" fill="#ec981d"/><ellipse cx="106.96" cy="23.62" rx="3.18" ry="1.62" fill="#e7b9b9"/><ellipse cx="125.23" cy="47.14" rx="5.96" ry="4.06" fill="#f68089"/><ellipse cx="81.93" cy="47.14" rx="3.18" ry="2.43" fill="#f68089"/><ellipse cx="55.32" cy="7.8" rx="4.37" ry="4.06" fill="#f8c030"/><ellipse cx="56.11" cy="6.58" rx="2.78" ry="2.43" fill="#ffffff"/></g></g><use href="#antedge" stroke="#ffffff" stroke-opacity="0.35" stroke-width="2.6" fill="none" transform="translate(0,-1.2)"/><use href="#antarc" fill="#ffffff" transform="translate(0,0.7)"/><use href="#antpen" fill="#603040" fill-opacity="0.85"/><use href="#antedge" stroke="#c07030" stroke-width="1.1" fill="none" transform="translate(0,0.5)"/><use href="#antedge" stroke="#60d0e0" stroke-width="1.1" fill="none" stroke-dasharray="1 2.2" transform="translate(0,0.2)"/><use href="#coast"/></g><path d="M0.5,0 V74.0" stroke="#989494" stroke-width="1" fill="none"/><path d="M0,73.5 H144.0" stroke="#a0a0a0" stroke-width="1" fill="none"/><path d="M143.5,0 V74.0" stroke="#505060" stroke-width="1" fill="none" stroke-opacity="0.8"/><path d="M0,0.5 H144.0" stroke="#d4d4c8" stroke-width="1" fill="none"/></g>
<text x="423" y="9" font-size="4.6" text-anchor="middle" fill="#202020" textLength="64" lengthAdjust="spacingAndGlyphs" xml:space="preserve">e)  Effective radius for ann</text>
<text x="423" y="13.9" font-size="4.6" text-anchor="middle" fill="#202020" textLength="98.6" lengthAdjust="spacingAndGlyphs" xml:space="preserve">U-DT333: GA7_197 minus U-AC283: GA7</text>
<text x="349.2" y="29.27" font-size="4.5" text-anchor="end" fill="#222" textLength="9.7" lengthAdjust="spacingAndGlyphs" xml:space="preserve">60°N</text>
<text x="349.2" y="41.43" font-size="4.5" text-anchor="end" fill="#222" textLength="9.7" lengthAdjust="spacingAndGlyphs" xml:space="preserve">30°N</text>
<text x="349.2" y="53.6" font-size="4.5" text-anchor="end" fill="#222" textLength="4.3" lengthAdjust="spacingAndGlyphs" xml:space="preserve">0°</text>
<text x="349.2" y="65.77" font-size="4.5" text-anchor="end" fill="#222" textLength="9.3" lengthAdjust="spacingAndGlyphs" xml:space="preserve">30°S</text>
<text x="349.2" y="77.93" font-size="4.5" text-anchor="end" fill="#222" textLength="9.3" lengthAdjust="spacingAndGlyphs" xml:space="preserve">60°S</text>
<text x="375.33" y="94.8" font-size="4.5" text-anchor="middle" fill="#222" textLength="12.9" lengthAdjust="spacingAndGlyphs" xml:space="preserve">120°W</text>
<text x="399.17" y="94.8" font-size="4.5" text-anchor="middle" fill="#222" textLength="10.9" lengthAdjust="spacingAndGlyphs" xml:space="preserve">60°W</text>
<text x="423" y="94.8" font-size="4.5" text-anchor="middle" fill="#222" textLength="4.3" lengthAdjust="spacingAndGlyphs" xml:space="preserve">0°</text>
<text x="446.83" y="94.8" font-size="4.5" text-anchor="middle" fill="#222" textLength="10.7" lengthAdjust="spacingAndGlyphs" xml:space="preserve">60°E</text>
<text x="470.67" y="94.8" font-size="4.5" text-anchor="middle" fill="#222" textLength="12.9" lengthAdjust="spacingAndGlyphs" xml:space="preserve">120°E</text>
<text x="423" y="101.2" font-size="4.5" text-anchor="middle" fill="#383838" textLength="60.5" lengthAdjust="spacingAndGlyphs" xml:space="preserve">Area-weighted rms diff = 1.73</text>
<path d="M351.5,109.1 L357.5,105.45 L358.1,105.45 L358.1,112.75 L357.5,112.75Z" fill="#c030ff"/><path d="M494.5,109.1 L488.5,105.45 L487.9,105.45 L487.9,112.75 L488.5,112.75Z" fill="#ffff80"/><rect x="357.5" y="105.45" width="131" height="7.3" fill="url(#cb2)" shape-rendering="crispEdges"/><path d="M351.5,109.1 L357.5,105.45 L488.5,105.45 L494.5,109.1 L488.5,112.75 L357.5,112.75Z" fill="none" stroke="#666" stroke-width="0.45"/><text x="370.6" y="117.85" font-size="4.4" text-anchor="middle" fill="#222" xml:space="preserve">−6</text><text x="388.07" y="117.85" font-size="4.4" text-anchor="middle" fill="#222" xml:space="preserve">−4</text><text x="405.53" y="117.85" font-size="4.4" text-anchor="middle" fill="#222" xml:space="preserve">−2</text><text x="423" y="117.85" font-size="4.4" text-anchor="middle" fill="#222" xml:space="preserve">0</text><text x="440.47" y="117.85" font-size="4.4" text-anchor="middle" fill="#222" xml:space="preserve">2</text><text x="457.93" y="117.85" font-size="4.4" text-anchor="middle" fill="#222" xml:space="preserve">4</text><text x="475.4" y="117.85" font-size="4.4" text-anchor="middle" fill="#222" xml:space="preserve">6</text>
<g transform="translate(16,139)"><g clip-path="url(#mapclip)"><rect x="0" y="0" width="145" height="75" fill="url(#og3)"/><g filter="url(#bl3)"><ellipse cx="23.54" cy="25.64" rx="3.18" ry="3.24" fill="#6155e9"/><ellipse cx="34.26" cy="44.3" rx="4.77" ry="2.03" fill="#7079f5"/><ellipse cx="75.18" cy="45.11" rx="2.38" ry="3.24" fill="#7097ed"/><ellipse cx="63.26" cy="28.89" rx="3.18" ry="3.24" fill="#7085f2"/><ellipse cx="40.22" cy="47.14" rx="2.38" ry="4.87" fill="#7097ed"/><ellipse cx="62.07" cy="43.08" rx="5.96" ry="3.24" fill="#9d1fef"/><ellipse cx="97.82" cy="32.94" rx="4.77" ry="3.24" fill="#a321f1"/><ellipse cx="106.96" cy="32.13" rx="2.38" ry="2.43" fill="#a321f1"/><ellipse cx="105.76" cy="39.03" rx="11.92" ry="2.03" fill="#a523f3"/><ellipse cx="113.71" cy="49.17" rx="4.77" ry="2.43" fill="#543ddc"/><ellipse cx="131.58" cy="33.76" rx="11.92" ry="3.24" fill="#a824f4"/><ellipse cx="24.33" cy="33.76" rx="15.89" ry="2.03" fill="#a824f4"/><ellipse cx="4.47" cy="15.91" rx="9.93" ry="2.43" fill="#4805d0"/><ellipse cx="60.08" cy="13.88" rx="7.94" ry="2.43" fill="#480cd0"/><ellipse cx="12.42" cy="43.08" rx="9.93" ry="1.62" fill="#5845e0"/><ellipse cx="10.43" cy="47.14" rx="11.12" ry="1.62" fill="#8613e3"/><ellipse cx="70.01" cy="47.14" rx="3.97" ry="2.43" fill="#4b2ed3"/></g><g clip-path="url(#landclip)"><rect x="0" y="0" width="145" height="75" fill="url(#lg3)"/><g filter="url(#lb3)"><ellipse cx="111.72" cy="12.67" rx="15.89" ry="2.84" fill="#ad27f7"/><ellipse cx="95.83" cy="13.48" rx="5.96" ry="2.03" fill="#9d1fef"/><ellipse cx="77.96" cy="15.91" rx="5.96" ry="2.43" fill="#4805d0"/><ellipse cx="32.28" cy="10.64" rx="9.93" ry="2.43" fill="#4b2ed3"/><ellipse cx="12.42" cy="10.64" rx="5.96" ry="2.43" fill="#480cd0"/><ellipse cx="32.28" cy="20.78" rx="7.15" ry="3.24" fill="#4810d0"/><ellipse cx="38.24" cy="23.21" rx="3.18" ry="2.03" fill="#6408d8"/><ellipse cx="26.32" cy="20.78" rx="2.38" ry="2.43" fill="#6155e9"/><ellipse cx="30.29" cy="26.86" rx="3.18" ry="2.43" fill="#708bf0"/><ellipse cx="75.97" cy="28.08" rx="9.93" ry="3.24" fill="#70a3e9"/><ellipse cx="72" cy="29.7" rx="3.18" ry="2.03" fill="#63d5db"/><ellipse cx="89.88" cy="28.08" rx="3.18" ry="2.43" fill="#6cb6e4"/><ellipse cx="102.98" cy="28.89" rx="3.18" ry="3.24" fill="#4818d0"/><ellipse cx="115.69" cy="24.83" rx="3.97" ry="2.43" fill="#4b2ed3"/><ellipse cx="106.96" cy="23.62" rx="3.97" ry="2.03" fill="#951aea"/><ellipse cx="106.96" cy="23.62" rx="1.99" ry="1.01" fill="#6155e9"/><ellipse cx="99.81" cy="19.56" rx="4.77" ry="2.03" fill="#6155e9"/><ellipse cx="80.74" cy="37.81" rx="3.97" ry="2.43" fill="#6155e9"/><ellipse cx="81.93" cy="45.92" rx="3.97" ry="3.24" fill="#70a3e9"/><ellipse cx="77.96" cy="45.92" rx="1.19" ry="3.24" fill="#61dbd9"/><ellipse cx="84.71" cy="48.36" rx="1.59" ry="1.62" fill="#61dbd9"/><ellipse cx="90.67" cy="44.71" rx="1.19" ry="2.43" fill="#61dbd9"/><ellipse cx="48.17" cy="39.03" rx="4.77" ry="3.24" fill="#5102d2"/><ellipse cx="54.12" cy="41.87" rx="2.38" ry="3.24" fill="#481fd0"/><ellipse cx="43" cy="45.11" rx="0.99" ry="5.68" fill="#67c9df"/><ellipse cx="44.99" cy="55.25" rx="1.99" ry="3.24" fill="#7097ed"/><ellipse cx="125.23" cy="47.14" rx="7.94" ry="4.87" fill="#64dfd8"/><ellipse cx="117.68" cy="37" rx="7.94" ry="2.43" fill="#951aea"/><ellipse cx="55.32" cy="7.8" rx="4.37" ry="4.06" fill="#7079f5"/><ellipse cx="56.11" cy="6.58" rx="2.78" ry="2.43" fill="#ffffff"/></g></g><use href="#antedge" stroke="#ffffff" stroke-opacity="0.55" stroke-width="2.6" fill="none" transform="translate(0,-1.2)"/><use href="#antarc" fill="#ffffff" transform="translate(0,0.7)"/><use href="#antpen" fill="#503080" fill-opacity="0.85"/><use href="#antedge" stroke="#d05080" stroke-width="1.1" fill="none" transform="translate(0,0.5)"/><use href="#antedge" stroke="#60d0e0" stroke-width="1.1" fill="none" stroke-dasharray="1 2.2" transform="translate(0,0.2)"/><use href="#coast"/></g><path d="M0.5,0 V74.0" stroke="#989494" stroke-width="1" fill="none"/><path d="M0,73.5 H144.0" stroke="#a0a0a0" stroke-width="1" fill="none"/><path d="M143.5,0 V74.0" stroke="#505060" stroke-width="1" fill="none" stroke-opacity="0.8"/><path d="M0,0.5 H144.0" stroke="#d4d4c8" stroke-width="1" fill="none"/></g>
<text x="88" y="133" font-size="4.6" text-anchor="middle" fill="#202020" textLength="64" lengthAdjust="spacingAndGlyphs" xml:space="preserve">c)  Effective radius for ann</text>
<text x="88" y="137.9" font-size="4.6" text-anchor="middle" fill="#202020" textLength="84.6" lengthAdjust="spacingAndGlyphs" xml:space="preserve">U-AC283: GA7 minus CERES_MODIS</text>
<text x="14.2" y="153.27" font-size="4.5" text-anchor="end" fill="#222" textLength="9.7" lengthAdjust="spacingAndGlyphs" xml:space="preserve">60°N</text>
<text x="14.2" y="165.43" font-size="4.5" text-anchor="end" fill="#222" textLength="9.7" lengthAdjust="spacingAndGlyphs" xml:space="preserve">30°N</text>
<text x="14.2" y="177.6" font-size="4.5" text-anchor="end" fill="#222" textLength="4.3" lengthAdjust="spacingAndGlyphs" xml:space="preserve">0°</text>
<text x="14.2" y="189.77" font-size="4.5" text-anchor="end" fill="#222" textLength="9.3" lengthAdjust="spacingAndGlyphs" xml:space="preserve">30°S</text>
<text x="14.2" y="201.93" font-size="4.5" text-anchor="end" fill="#222" textLength="9.3" lengthAdjust="spacingAndGlyphs" xml:space="preserve">60°S</text>
<text x="40.33" y="218.8" font-size="4.5" text-anchor="middle" fill="#222" textLength="12.9" lengthAdjust="spacingAndGlyphs" xml:space="preserve">120°W</text>
<text x="64.17" y="218.8" font-size="4.5" text-anchor="middle" fill="#222" textLength="10.9" lengthAdjust="spacingAndGlyphs" xml:space="preserve">60°W</text>
<text x="88" y="218.8" font-size="4.5" text-anchor="middle" fill="#222" textLength="4.3" lengthAdjust="spacingAndGlyphs" xml:space="preserve">0°</text>
<text x="111.83" y="218.8" font-size="4.5" text-anchor="middle" fill="#222" textLength="10.7" lengthAdjust="spacingAndGlyphs" xml:space="preserve">60°E</text>
<text x="135.67" y="218.8" font-size="4.5" text-anchor="middle" fill="#222" textLength="12.9" lengthAdjust="spacingAndGlyphs" xml:space="preserve">120°E</text>
<text x="88" y="225.2" font-size="4.5" text-anchor="middle" fill="#383838" textLength="60" lengthAdjust="spacingAndGlyphs" xml:space="preserve">Area weighted rms diff = 4.88</text>
<path d="M16.5,233.1 L22.5,229.45 L23.1,229.45 L23.1,236.75 L22.5,236.75Z" fill="#c030ff"/><path d="M159.5,233.1 L153.5,229.45 L152.9,229.45 L152.9,236.75 L153.5,236.75Z" fill="#ffff80"/><rect x="22.5" y="229.45" width="131" height="7.3" fill="url(#cb3)" shape-rendering="crispEdges"/><path d="M16.5,233.1 L22.5,229.45 L153.5,229.45 L159.5,233.1 L153.5,236.75 L22.5,236.75Z" fill="none" stroke="#666" stroke-width="0.45"/><text x="35.6" y="241.85" font-size="4.4" text-anchor="middle" fill="#222" xml:space="preserve">−6</text><text x="53.07" y="241.85" font-size="4.4" text-anchor="middle" fill="#222" xml:space="preserve">−4</text><text x="70.53" y="241.85" font-size="4.4" text-anchor="middle" fill="#222" xml:space="preserve">−2</text><text x="88" y="241.85" font-size="4.4" text-anchor="middle" fill="#222" xml:space="preserve">0</text><text x="105.47" y="241.85" font-size="4.4" text-anchor="middle" fill="#222" xml:space="preserve">2</text><text x="122.93" y="241.85" font-size="4.4" text-anchor="middle" fill="#222" xml:space="preserve">4</text><text x="140.4" y="241.85" font-size="4.4" text-anchor="middle" fill="#222" xml:space="preserve">6</text>
<g transform="translate(183,139)"><g clip-path="url(#mapclip)"><rect x="0" y="0" width="145" height="75" fill="url(#og4)"/><g filter="url(#bl4)"><ellipse cx="23.54" cy="25.64" rx="3.18" ry="3.24" fill="#6963f1"/><ellipse cx="34.26" cy="44.3" rx="4.77" ry="2.03" fill="#5239da"/><ellipse cx="75.18" cy="45.11" rx="2.38" ry="3.24" fill="#6761ef"/><ellipse cx="63.26" cy="28.89" rx="3.18" ry="3.24" fill="#708bf0"/><ellipse cx="40.22" cy="47.14" rx="2.38" ry="4.87" fill="#6761ef"/><ellipse cx="62.07" cy="43.08" rx="5.96" ry="3.24" fill="#b028f8"/><ellipse cx="97.82" cy="32.94" rx="4.77" ry="3.24" fill="#a724f4"/><ellipse cx="106.96" cy="32.13" rx="2.38" ry="2.43" fill="#a523f3"/><ellipse cx="105.76" cy="39.03" rx="11.92" ry="2.03" fill="#b028f8"/><ellipse cx="113.71" cy="49.17" rx="4.77" ry="2.43" fill="#4812d0"/><ellipse cx="131.58" cy="33.76" rx="11.92" ry="3.24" fill="#ae27f7"/><ellipse cx="24.33" cy="33.76" rx="15.89" ry="2.03" fill="#ae27f7"/><ellipse cx="4.47" cy="15.91" rx="9.93" ry="2.43" fill="#4800d0"/><ellipse cx="60.08" cy="13.88" rx="7.94" ry="2.43" fill="#4806d0"/><ellipse cx="12.42" cy="43.08" rx="9.93" ry="1.62" fill="#4816d0"/><ellipse cx="10.43" cy="47.14" rx="11.12" ry="1.62" fill="#9f1fef"/><ellipse cx="70.01" cy="47.14" rx="3.97" ry="2.43" fill="#480ad0"/></g><g clip-path="url(#landclip)"><rect x="0" y="0" width="145" height="75" fill="url(#lg4)"/><g filter="url(#lb4)"><ellipse cx="111.72" cy="12.67" rx="15.89" ry="2.84" fill="#a020f0"/><ellipse cx="95.83" cy="13.48" rx="5.96" ry="2.03" fill="#8f17e7"/><ellipse cx="77.96" cy="15.91" rx="5.96" ry="2.43" fill="#4818d0"/><ellipse cx="32.28" cy="10.64" rx="9.93" ry="2.43" fill="#6155e9"/><ellipse cx="12.42" cy="10.64" rx="5.96" ry="2.43" fill="#481fd0"/><ellipse cx="32.28" cy="20.78" rx="7.15" ry="3.24" fill="#4823d0"/><ellipse cx="38.24" cy="23.21" rx="3.18" ry="2.03" fill="#4c01d1"/><ellipse cx="26.32" cy="20.78" rx="2.38" ry="2.43" fill="#7079f5"/><ellipse cx="30.29" cy="26.86" rx="3.18" ry="2.43" fill="#70aae8"/><ellipse cx="75.97" cy="28.08" rx="9.93" ry="3.24" fill="#68c2e0"/><ellipse cx="72" cy="29.7" rx="3.18" ry="2.03" fill="#63d5db"/><ellipse cx="89.88" cy="28.08" rx="3.18" ry="2.43" fill="#63d5db"/><ellipse cx="102.98" cy="28.89" rx="3.18" ry="3.24" fill="#4b2ed3"/><ellipse cx="115.69" cy="24.83" rx="3.97" ry="2.43" fill="#6155e9"/><ellipse cx="106.96" cy="23.62" rx="3.97" ry="2.03" fill="#8613e3"/><ellipse cx="106.96" cy="23.62" rx="1.99" ry="1.01" fill="#7079f5"/><ellipse cx="99.81" cy="19.56" rx="4.77" ry="2.03" fill="#7079f5"/><ellipse cx="80.74" cy="37.81" rx="3.97" ry="2.43" fill="#7079f5"/><ellipse cx="81.93" cy="45.92" rx="3.97" ry="3.24" fill="#68c2e0"/><ellipse cx="77.96" cy="45.92" rx="1.19" ry="3.24" fill="#61dbd9"/><ellipse cx="84.71" cy="48.36" rx="1.59" ry="1.62" fill="#61dbd9"/><ellipse cx="90.67" cy="44.71" rx="1.19" ry="2.43" fill="#61dbd9"/><ellipse cx="48.17" cy="39.03" rx="4.77" ry="3.24" fill="#480cd0"/><ellipse cx="54.12" cy="41.87" rx="2.38" ry="3.24" fill="#543ddc"/><ellipse cx="43" cy="45.11" rx="0.99" ry="5.68" fill="#73ddd7"/><ellipse cx="44.99" cy="55.25" rx="1.99" ry="3.24" fill="#6cb6e4"/><ellipse cx="125.23" cy="47.14" rx="7.94" ry="4.87" fill="#64dfd8"/><ellipse cx="117.68" cy="37" rx="7.94" ry="2.43" fill="#8613e3"/><ellipse cx="55.32" cy="7.8" rx="4.37" ry="4.06" fill="#7097ed"/><ellipse cx="56.11" cy="6.58" rx="2.78" ry="2.43" fill="#ffffff"/></g></g><use href="#antedge" stroke="#ffffff" stroke-opacity="0.55" stroke-width="2.6" fill="none" transform="translate(0,-1.2)"/><use href="#antarc" fill="#ffffff" transform="translate(0,0.7)"/><use href="#antpen" fill="#503080" fill-opacity="0.85"/><use href="#antedge" stroke="#d05080" stroke-width="1.1" fill="none" transform="translate(0,0.5)"/><use href="#antedge" stroke="#60d0e0" stroke-width="1.1" fill="none" stroke-dasharray="1 2.2" transform="translate(0,0.2)"/><use href="#coast"/></g><path d="M0.5,0 V74.0" stroke="#989494" stroke-width="1" fill="none"/><path d="M0,73.5 H144.0" stroke="#a0a0a0" stroke-width="1" fill="none"/><path d="M143.5,0 V74.0" stroke="#505060" stroke-width="1" fill="none" stroke-opacity="0.8"/><path d="M0,0.5 H144.0" stroke="#d4d4c8" stroke-width="1" fill="none"/></g>
<text x="255" y="133" font-size="4.6" text-anchor="middle" fill="#202020" textLength="64" lengthAdjust="spacingAndGlyphs" xml:space="preserve">d)  Effective radius for ann</text>
<text x="255" y="137.9" font-size="4.6" text-anchor="middle" fill="#202020" textLength="95" lengthAdjust="spacingAndGlyphs" xml:space="preserve">U-DT332: GA7_192 minus CERES_MODIS</text>
<text x="181.2" y="153.27" font-size="4.5" text-anchor="end" fill="#222" textLength="9.7" lengthAdjust="spacingAndGlyphs" xml:space="preserve">60°N</text>
<text x="181.2" y="165.43" font-size="4.5" text-anchor="end" fill="#222" textLength="9.7" lengthAdjust="spacingAndGlyphs" xml:space="preserve">30°N</text>
<text x="181.2" y="177.6" font-size="4.5" text-anchor="end" fill="#222" textLength="4.3" lengthAdjust="spacingAndGlyphs" xml:space="preserve">0°</text>
<text x="181.2" y="189.77" font-size="4.5" text-anchor="end" fill="#222" textLength="9.3" lengthAdjust="spacingAndGlyphs" xml:space="preserve">30°S</text>
<text x="181.2" y="201.93" font-size="4.5" text-anchor="end" fill="#222" textLength="9.3" lengthAdjust="spacingAndGlyphs" xml:space="preserve">60°S</text>
<text x="207.33" y="218.8" font-size="4.5" text-anchor="middle" fill="#222" textLength="12.9" lengthAdjust="spacingAndGlyphs" xml:space="preserve">120°W</text>
<text x="231.17" y="218.8" font-size="4.5" text-anchor="middle" fill="#222" textLength="10.9" lengthAdjust="spacingAndGlyphs" xml:space="preserve">60°W</text>
<text x="255" y="218.8" font-size="4.5" text-anchor="middle" fill="#222" textLength="4.3" lengthAdjust="spacingAndGlyphs" xml:space="preserve">0°</text>
<text x="278.83" y="218.8" font-size="4.5" text-anchor="middle" fill="#222" textLength="10.7" lengthAdjust="spacingAndGlyphs" xml:space="preserve">60°E</text>
<text x="302.67" y="218.8" font-size="4.5" text-anchor="middle" fill="#222" textLength="12.9" lengthAdjust="spacingAndGlyphs" xml:space="preserve">120°E</text>
<text x="255" y="225.2" font-size="4.5" text-anchor="middle" fill="#383838" textLength="60" lengthAdjust="spacingAndGlyphs" xml:space="preserve">Area-weighted rms diff = 4.74</text>
<path d="M183.5,233.1 L189.5,229.45 L190.1,229.45 L190.1,236.75 L189.5,236.75Z" fill="#c030ff"/><path d="M326.5,233.1 L320.5,229.45 L319.9,229.45 L319.9,236.75 L320.5,236.75Z" fill="#ffff80"/><rect x="189.5" y="229.45" width="131" height="7.3" fill="url(#cb4)" shape-rendering="crispEdges"/><path d="M183.5,233.1 L189.5,229.45 L320.5,229.45 L326.5,233.1 L320.5,236.75 L189.5,236.75Z" fill="none" stroke="#666" stroke-width="0.45"/><text x="202.6" y="241.85" font-size="4.4" text-anchor="middle" fill="#222" xml:space="preserve">−6</text><text x="220.07" y="241.85" font-size="4.4" text-anchor="middle" fill="#222" xml:space="preserve">−4</text><text x="237.53" y="241.85" font-size="4.4" text-anchor="middle" fill="#222" xml:space="preserve">−2</text><text x="255" y="241.85" font-size="4.4" text-anchor="middle" fill="#222" xml:space="preserve">0</text><text x="272.47" y="241.85" font-size="4.4" text-anchor="middle" fill="#222" xml:space="preserve">2</text><text x="289.93" y="241.85" font-size="4.4" text-anchor="middle" fill="#222" xml:space="preserve">4</text><text x="307.4" y="241.85" font-size="4.4" text-anchor="middle" fill="#222" xml:space="preserve">6</text>
<g transform="translate(351,139)"><g clip-path="url(#mapclip)"><rect x="0" y="0" width="145" height="75" fill="url(#og5)"/><g filter="url(#bl5)"><ellipse cx="23.54" cy="25.64" rx="3.18" ry="3.24" fill="#7097ed"/><ellipse cx="34.26" cy="44.3" rx="4.77" ry="2.03" fill="#708bf0"/><ellipse cx="75.18" cy="45.11" rx="2.38" ry="3.24" fill="#6cb6e4"/><ellipse cx="63.26" cy="28.89" rx="3.18" ry="3.24" fill="#7097ed"/><ellipse cx="97.82" cy="32.94" rx="4.77" ry="3.24" fill="#8613e3"/><ellipse cx="105.76" cy="39.03" rx="9.93" ry="2.03" fill="#8613e3"/><ellipse cx="131.58" cy="33.76" rx="11.92" ry="3.24" fill="#8110e0"/><ellipse cx="28.31" cy="32.94" rx="7.94" ry="1.62" fill="#951aea"/><ellipse cx="12.42" cy="42.68" rx="7.15" ry="1.62" fill="#6eb0e6"/><ellipse cx="64.06" cy="41.87" rx="3.97" ry="1.62" fill="#8110e0"/><ellipse cx="99.81" cy="45.11" rx="9.93" ry="2.84" fill="#6a65f2"/><ellipse cx="8.44" cy="19.97" rx="9.93" ry="2.43" fill="#8110e0"/><ellipse cx="60.08" cy="19.97" rx="7.15" ry="2.43" fill="#5102d2"/><ellipse cx="64.06" cy="32.94" rx="3.18" ry="1.62" fill="#8613e3"/></g><g clip-path="url(#landclip)"><rect x="0" y="0" width="145" height="75" fill="url(#lg5)"/><g filter="url(#lb5)"><ellipse cx="73.99" cy="28.08" rx="7.94" ry="3.24" fill="#f1a7a7"/><ellipse cx="70.01" cy="29.7" rx="2.38" ry="1.62" fill="#67c9df"/><ellipse cx="89.88" cy="28.08" rx="3.18" ry="2.43" fill="#e7b9b9"/><ellipse cx="125.23" cy="47.14" rx="5.96" ry="4.06" fill="#fc9696"/><ellipse cx="81.53" cy="47.14" rx="3.18" ry="2.43" fill="#eeadad"/><ellipse cx="111.72" cy="12.67" rx="15.89" ry="2.84" fill="#8110e0"/><ellipse cx="77.96" cy="16.72" rx="4.77" ry="2.43" fill="#4805d0"/><ellipse cx="102.98" cy="28.89" rx="3.18" ry="3.24" fill="#5a05d5"/><ellipse cx="106.96" cy="23.62" rx="3.97" ry="2.03" fill="#9d1fef"/><ellipse cx="106.96" cy="23.62" rx="1.99" ry="1.01" fill="#7097ed"/><ellipse cx="115.69" cy="24.02" rx="4.77" ry="3.24" fill="#7085f2"/><ellipse cx="32.28" cy="20.78" rx="5.96" ry="3.24" fill="#7073f7"/><ellipse cx="48.17" cy="39.03" rx="4.77" ry="3.24" fill="#707ff4"/><ellipse cx="54.12" cy="41.87" rx="2.38" ry="3.24" fill="#7097ed"/><ellipse cx="55.32" cy="7.8" rx="4.37" ry="4.06" fill="#e18316"/><ellipse cx="56.11" cy="6.58" rx="2.78" ry="2.43" fill="#ffffff"/></g></g><use href="#antedge" stroke="#ffffff" stroke-opacity="0.55" stroke-width="2.6" fill="none" transform="translate(0,-1.2)"/><use href="#antarc" fill="#ffffff" transform="translate(0,0.7)"/><use href="#antpen" fill="#503080" fill-opacity="0.85"/><use href="#antedge" stroke="#e08040" stroke-width="1.1" fill="none" transform="translate(0,0.5)"/><use href="#antedge" stroke="#60d0e0" stroke-width="1.1" fill="none" stroke-dasharray="1 2.2" transform="translate(0,0.2)"/><use href="#coast"/></g><path d="M0.5,0 V74.0" stroke="#989494" stroke-width="1" fill="none"/><path d="M0,73.5 H144.0" stroke="#a0a0a0" stroke-width="1" fill="none"/><path d="M143.5,0 V74.0" stroke="#505060" stroke-width="1" fill="none" stroke-opacity="0.8"/><path d="M0,0.5 H144.0" stroke="#d4d4c8" stroke-width="1" fill="none"/></g>
<text x="423" y="133" font-size="4.6" text-anchor="middle" fill="#202020" textLength="64" lengthAdjust="spacingAndGlyphs" xml:space="preserve">f)  Effective radius for ann</text>
<text x="423" y="137.9" font-size="4.6" text-anchor="middle" fill="#202020" textLength="95" lengthAdjust="spacingAndGlyphs" xml:space="preserve">U-DT333: GA7_197 minus CERES_MODIS</text>
<text x="349.2" y="153.27" font-size="4.5" text-anchor="end" fill="#222" textLength="9.7" lengthAdjust="spacingAndGlyphs" xml:space="preserve">60°N</text>
<text x="349.2" y="165.43" font-size="4.5" text-anchor="end" fill="#222" textLength="9.7" lengthAdjust="spacingAndGlyphs" xml:space="preserve">30°N</text>
<text x="349.2" y="177.6" font-size="4.5" text-anchor="end" fill="#222" textLength="4.3" lengthAdjust="spacingAndGlyphs" xml:space="preserve">0°</text>
<text x="349.2" y="189.77" font-size="4.5" text-anchor="end" fill="#222" textLength="9.3" lengthAdjust="spacingAndGlyphs" xml:space="preserve">30°S</text>
<text x="349.2" y="201.93" font-size="4.5" text-anchor="end" fill="#222" textLength="9.3" lengthAdjust="spacingAndGlyphs" xml:space="preserve">60°S</text>
<text x="375.33" y="218.8" font-size="4.5" text-anchor="middle" fill="#222" textLength="12.9" lengthAdjust="spacingAndGlyphs" xml:space="preserve">120°W</text>
<text x="399.17" y="218.8" font-size="4.5" text-anchor="middle" fill="#222" textLength="10.9" lengthAdjust="spacingAndGlyphs" xml:space="preserve">60°W</text>
<text x="423" y="218.8" font-size="4.5" text-anchor="middle" fill="#222" textLength="4.3" lengthAdjust="spacingAndGlyphs" xml:space="preserve">0°</text>
<text x="446.83" y="218.8" font-size="4.5" text-anchor="middle" fill="#222" textLength="10.7" lengthAdjust="spacingAndGlyphs" xml:space="preserve">60°E</text>
<text x="470.67" y="218.8" font-size="4.5" text-anchor="middle" fill="#222" textLength="12.9" lengthAdjust="spacingAndGlyphs" xml:space="preserve">120°E</text>
<text x="423" y="225.2" font-size="4.5" text-anchor="middle" fill="#383838" textLength="60" lengthAdjust="spacingAndGlyphs" xml:space="preserve">Area-weighted rms diff = 3.54</text>
<path d="M351.5,233.1 L357.5,229.45 L358.1,229.45 L358.1,236.75 L357.5,236.75Z" fill="#c030ff"/><path d="M494.5,233.1 L488.5,229.45 L487.9,229.45 L487.9,236.75 L488.5,236.75Z" fill="#ffff80"/><rect x="357.5" y="229.45" width="131" height="7.3" fill="url(#cb5)" shape-rendering="crispEdges"/><path d="M351.5,233.1 L357.5,229.45 L488.5,229.45 L494.5,233.1 L488.5,236.75 L357.5,236.75Z" fill="none" stroke="#666" stroke-width="0.45"/><text x="370.6" y="241.85" font-size="4.4" text-anchor="middle" fill="#222" xml:space="preserve">−6</text><text x="388.07" y="241.85" font-size="4.4" text-anchor="middle" fill="#222" xml:space="preserve">−4</text><text x="405.53" y="241.85" font-size="4.4" text-anchor="middle" fill="#222" xml:space="preserve">−2</text><text x="423" y="241.85" font-size="4.4" text-anchor="middle" fill="#222" xml:space="preserve">0</text><text x="440.47" y="241.85" font-size="4.4" text-anchor="middle" fill="#222" xml:space="preserve">2</text><text x="457.93" y="241.85" font-size="4.4" text-anchor="middle" fill="#222" xml:space="preserve">4</text><text x="475.4" y="241.85" font-size="4.4" text-anchor="middle" fill="#222" xml:space="preserve">6</text>
</svg></body></html>
